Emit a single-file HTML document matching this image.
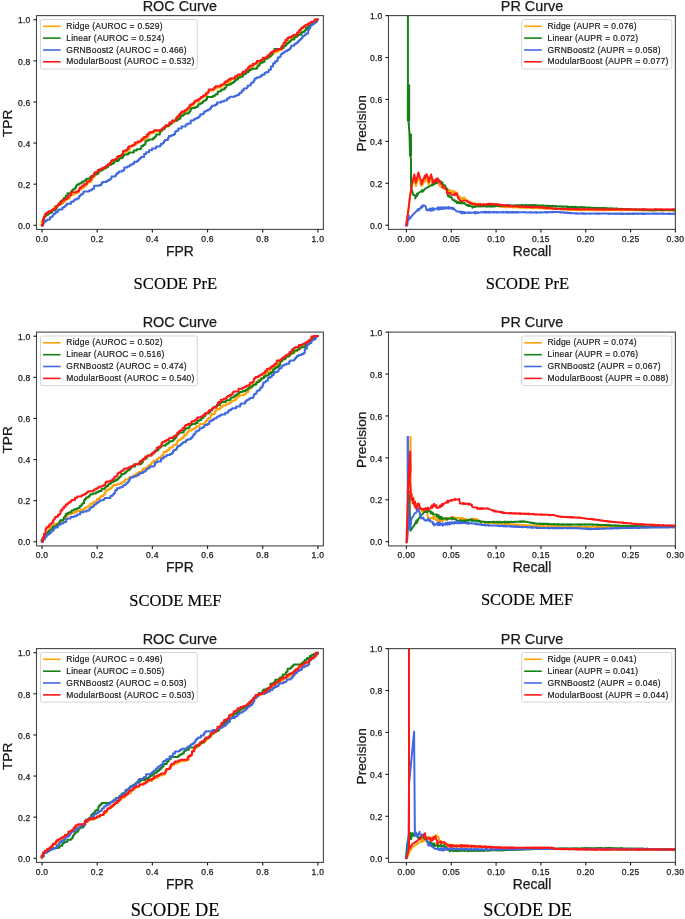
<!DOCTYPE html>
<html><head><meta charset="utf-8"><style>
html,body{margin:0;padding:0;background:#fff;width:685px;height:919px;overflow:hidden}
svg{display:block;will-change:transform;filter:blur(0.3px)}
text{font-family:"Liberation Sans", sans-serif;fill:#1a1a1a}
.tk{stroke:#1a1a1a;stroke-width:0.25px}
.lg{stroke:#1a1a1a;stroke-width:0.2px}
.lb{stroke:#1a1a1a;stroke-width:0.25px}
</style></head><body>
<svg width="685" height="919" viewBox="0 0 685 919">
<rect width="685" height="919" fill="#fff"/>
<clipPath id="c0ROC"><rect x="36.5" y="15.6" width="286.9" height="213.8"/></clipPath>
<g clip-path="url(#c0ROC)" fill="none" stroke-width="2" stroke-linejoin="round" stroke-linecap="round">
<path d="M41.7,225.2 L41.7,221.1 L43.0,221.1 L43.0,219.0 L43.9,219.0 L43.9,216.4 L44.8,216.4 L44.8,215.5 L46.5,215.5 L46.5,214.4 L47.4,214.4 L47.4,213.3 L49.1,213.3 L49.1,211.2 L50.9,211.2 L52.6,211.2 L52.6,209.0 L54.4,209.0 L54.4,206.9 L55.3,206.9 L55.3,205.9 L57.0,205.9 L57.9,205.9 L57.9,204.5 L60.5,204.5 L60.5,203.6 L63.1,203.6 L63.1,201.8 L64.0,201.8 L64.9,201.8 L64.9,199.8 L65.8,199.8 L65.8,198.8 L67.5,198.8 L69.2,198.8 L69.2,197.8 L70.1,197.8 L70.1,194.8 L71.0,194.8 L73.6,194.8 L73.6,193.5 L74.5,193.5 L76.7,193.5 L76.7,192.4 L78.9,192.4 L78.9,191.3 L78.9,189.5 L81.5,189.5 L81.5,187.8 L82.4,187.8 L84.2,187.8 L84.2,186.1 L85.9,186.1 L85.9,185.2 L86.8,185.2 L86.8,183.4 L87.7,183.4 L87.7,182.6 L89.4,182.6 L89.4,181.7 L91.2,181.7 L91.2,180.6 L92.0,180.6 L92.0,178.4 L92.9,178.4 L92.9,177.3 L93.9,177.3 L93.9,176.3 L95.0,176.3 L95.0,173.4 L96.0,173.4 L97.8,173.4 L97.8,171.3 L99.5,171.3 L100.5,171.3 L100.5,170.4 L102.4,170.4 L102.4,169.5 L103.4,169.5 L103.4,168.6 L104.4,168.6 L104.4,167.6 L107.3,167.6 L107.3,165.8 L108.3,165.8 L108.3,164.9 L110.2,164.9 L110.2,163.0 L112.2,163.0 L112.2,161.1 L114.1,161.1 L114.1,160.1 L115.1,160.1 L115.1,159.2 L117.0,159.2 L117.0,158.2 L118.0,158.2 L118.0,157.2 L121.0,157.2 L121.0,156.3 L122.0,156.3 L122.0,155.3 L123.0,155.3 L123.0,152.3 L126.0,152.3 L126.0,151.4 L127.0,151.4 L127.0,150.4 L128.0,150.4 L128.0,149.4 L130.0,149.4 L130.0,146.6 L132.0,146.6 L132.0,145.6 L133.0,145.6 L133.0,144.7 L135.9,144.7 L135.9,143.7 L136.9,143.7 L136.9,142.8 L138.9,142.8 L138.9,141.9 L139.9,141.9 L139.9,140.9 L140.9,140.9 L140.9,140.0 L144.8,140.0 L144.8,139.0 L145.7,139.0 L145.7,138.1 L146.7,138.1 L146.7,137.1 L147.7,137.1 L147.7,136.2 L148.8,136.2 L148.8,134.3 L149.9,134.3 L149.9,133.3 L153.1,133.3 L153.1,132.4 L154.2,132.4 L154.2,131.4 L156.0,131.4 L156.0,131.4 L159.7,131.4 L159.7,130.4 L162.6,130.4 L162.6,128.4 L163.6,128.4 L163.6,127.4 L165.5,127.4 L165.5,126.4 L167.4,126.4 L168.4,126.4 L168.4,125.5 L169.3,125.5 L169.3,124.6 L170.3,124.6 L170.3,123.6 L171.3,123.6 L171.3,122.7 L174.2,122.7 L174.2,120.9 L176.1,120.9 L176.1,118.9 L179.0,118.9 L179.0,117.8 L180.0,117.8 L180.0,115.8 L180.9,115.8 L180.9,114.7 L181.9,114.7 L181.9,112.6 L184.7,112.6 L184.7,111.5 L186.6,111.5 L186.6,110.4 L186.6,109.4 L188.5,109.4 L188.5,107.5 L190.5,107.5 L190.5,106.5 L191.4,106.5 L191.4,105.6 L193.4,105.6 L193.4,103.7 L194.3,103.7 L194.3,102.7 L195.3,102.7 L195.3,101.6 L199.1,101.6 L199.1,99.4 L200.0,99.4 L200.0,98.3 L201.9,98.3 L201.9,97.3 L202.9,97.3 L202.9,96.4 L205.8,96.4 L205.8,95.4 L206.8,95.4 L206.8,93.5 L207.8,93.5 L207.8,91.6 L208.7,91.6 L208.7,90.6 L210.7,90.6 L213.6,90.6 L213.6,89.5 L214.6,89.5 L214.6,88.5 L216.5,88.5 L216.5,87.4 L219.4,87.4 L220.4,87.4 L220.4,86.5 L222.3,86.5 L222.3,85.6 L223.3,85.6 L223.3,84.6 L224.3,84.6 L224.3,83.7 L226.2,83.7 L226.2,82.8 L228.2,82.8 L228.2,81.9 L230.1,81.9 L230.1,80.8 L231.1,80.8 L231.1,78.6 L235.9,78.6 L235.9,77.5 L236.9,77.5 L238.9,77.5 L238.9,76.6 L239.8,76.6 L239.8,75.7 L241.8,75.7 L241.8,72.9 L243.7,72.9 L243.7,72.0 L245.7,72.0 L245.7,70.9 L247.9,70.9 L247.9,69.8 L249.0,69.8 L249.0,68.8 L250.1,68.8 L250.1,67.7 L252.0,67.7 L252.0,66.8 L253.0,66.8 L253.0,65.9 L254.0,65.9 L254.0,64.0 L255.9,64.0 L255.9,63.1 L257.8,63.1 L257.8,62.2 L258.8,62.2 L260.8,62.2 L260.8,61.1 L261.7,61.1 L261.7,60.0 L263.7,60.0 L263.7,58.9 L265.6,58.9 L265.6,57.8 L267.6,57.8 L269.5,57.8 L269.5,56.0 L271.4,56.0 L271.4,54.1 L273.3,54.1 L273.3,53.2 L274.2,53.2 L274.2,52.3 L277.4,52.3 L277.4,51.2 L278.5,51.2 L278.5,50.1 L280.7,50.1 L281.6,50.1 L281.6,49.1 L282.6,49.1 L282.6,48.1 L283.5,48.1 L283.5,44.2 L285.4,44.2 L285.4,42.3 L287.3,42.3 L287.3,40.3 L287.3,39.2 L288.2,39.2 L288.2,38.1 L293.9,38.1 L293.9,37.0 L293.9,36.0 L296.1,36.0 L296.1,35.1 L297.1,35.1 L297.1,34.1 L298.2,34.1 L298.2,32.2 L299.3,32.2 L299.3,30.3 L300.4,30.3 L301.3,30.3 L301.3,28.1 L302.2,28.1 L302.2,27.1 L304.1,27.1 L304.1,26.0 L305.0,26.0 L305.0,24.9 L305.9,24.9 L308.7,24.9 L308.7,23.8 L310.5,23.8 L310.5,22.7 L311.4,22.7 L311.4,21.7 L315.7,21.7 L315.7,19.6 L317.9,19.6" stroke="#ffa208"/>
<path d="M41.7,225.2 L42.8,225.2 L42.8,222.2 L43.9,222.2 L43.9,217.3 L44.8,217.3 L44.8,216.4 L45.6,216.4 L45.6,215.6 L46.5,215.6 L46.5,214.7 L48.2,214.7 L48.2,213.8 L49.1,213.8 L49.1,212.9 L50.0,212.9 L51.1,212.9 L51.1,212.0 L52.2,212.0 L52.2,210.3 L54.4,210.3 L55.3,210.3 L55.3,209.4 L56.1,209.4 L56.1,207.7 L57.0,207.7 L57.0,205.9 L57.9,205.9 L57.9,205.1 L59.6,205.1 L59.6,204.2 L60.5,204.2 L60.5,201.2 L62.3,201.2 L62.3,200.2 L63.2,200.2 L63.2,199.1 L64.0,199.1 L64.0,198.0 L65.8,198.0 L65.8,195.8 L67.5,195.8 L67.5,193.2 L69.3,193.2 L71.0,193.2 L71.0,191.5 L71.9,191.5 L71.9,190.6 L72.8,190.6 L72.8,189.5 L74.5,189.5 L74.5,188.4 L75.4,188.4 L75.4,187.4 L76.2,187.4 L76.2,185.4 L77.1,185.4 L77.1,184.4 L78.0,184.4 L79.1,184.4 L79.1,183.4 L81.3,183.4 L81.3,182.4 L82.4,182.4 L82.4,181.4 L84.6,181.4 L84.6,180.5 L85.7,180.5 L85.7,179.6 L86.8,179.6 L86.8,178.7 L90.1,178.7 L90.1,177.0 L91.2,177.0 L93.1,177.0 L93.1,175.3 L94.1,175.3 L94.1,174.4 L96.0,174.4 L96.9,174.4 L96.9,173.4 L98.6,173.4 L98.6,171.6 L99.5,171.6 L99.5,170.6 L101.5,170.6 L101.5,169.6 L103.4,169.6 L103.4,168.6 L105.4,168.6 L105.4,167.7 L106.3,167.7 L106.3,166.7 L108.3,166.7 L108.3,165.7 L108.3,164.8 L111.3,164.8 L111.3,163.8 L113.3,163.8 L113.3,162.9 L114.2,162.9 L114.2,161.0 L118.2,161.0 L118.2,160.0 L119.2,160.0 L119.2,159.1 L119.2,158.2 L122.1,158.2 L122.1,157.3 L123.1,157.3 L123.1,155.4 L124.1,155.4 L124.1,154.5 L128.0,154.5 L128.0,153.6 L129.0,153.6 L129.0,152.5 L133.8,152.5 L133.8,150.4 L136.7,150.4 L136.7,149.3 L140.5,149.3 L140.5,148.2 L141.4,148.2 L141.4,146.0 L143.3,146.0 L143.3,145.1 L144.4,145.1 L144.4,144.2 L145.5,144.2 L145.5,141.4 L146.6,141.4 L146.6,140.5 L147.7,140.5 L148.8,140.5 L148.8,139.4 L153.1,139.4 L153.1,138.3 L154.2,138.3 L154.2,137.4 L155.1,137.4 L155.1,136.4 L156.1,136.4 L156.1,134.5 L159.9,134.5 L159.9,131.7 L160.8,131.7 L160.8,130.8 L161.8,130.8 L161.8,129.8 L162.8,129.8 L162.8,128.9 L164.7,128.9 L164.7,127.0 L165.7,127.0 L165.7,126.0 L168.6,126.0 L168.6,125.1 L169.6,125.1 L169.6,124.1 L171.5,124.1 L171.5,121.9 L172.5,121.9 L172.5,120.8 L177.3,120.8 L177.3,119.7 L178.3,119.7 L178.3,118.7 L180.4,118.7 L180.4,116.6 L181.4,116.6 L181.4,115.6 L183.5,115.6 L183.5,114.5 L184.5,114.5 L184.5,113.5 L186.6,113.5 L188.5,113.5 L188.5,112.4 L189.5,112.4 L189.5,111.3 L190.5,111.3 L190.5,109.2 L191.4,109.2 L191.4,108.1 L195.3,108.1 L195.3,107.0 L197.3,107.0 L197.3,106.1 L198.2,106.1 L198.2,104.2 L200.2,104.2 L200.2,103.2 L202.1,103.2 L202.1,102.3 L203.1,102.3 L203.1,101.3 L204.1,101.3 L204.1,100.4 L206.0,100.4 L206.0,99.3 L207.0,99.3 L207.0,97.1 L212.8,97.1 L212.8,96.0 L214.8,96.0 L214.8,95.1 L215.7,95.1 L215.7,94.2 L217.7,94.2 L217.7,91.4 L220.6,91.4 L220.6,90.5 L221.6,90.5 L221.6,89.4 L224.4,89.4 L224.4,88.3 L225.4,88.3 L225.4,87.3 L226.3,87.3 L226.3,85.1 L228.2,85.1 L229.2,85.1 L229.2,84.2 L231.1,84.2 L231.1,83.3 L233.0,83.3 L233.0,82.3 L234.0,82.3 L234.0,81.4 L235.0,81.4 L235.0,80.5 L235.9,80.5 L235.9,79.6 L236.9,79.6 L237.9,79.6 L237.9,77.7 L239.8,77.7 L239.8,76.8 L242.8,76.8 L242.8,74.9 L243.7,74.9 L243.7,73.9 L245.7,73.9 L245.7,73.0 L246.7,73.0 L246.7,71.9 L248.7,71.9 L248.7,70.8 L249.7,70.8 L249.7,69.8 L251.6,69.8 L251.6,68.7 L256.6,68.7 L256.6,67.6 L257.6,67.6 L257.6,65.6 L259.6,65.6 L259.6,63.6 L260.6,63.6 L260.6,62.7 L262.6,62.7 L262.6,61.7 L264.6,61.7 L264.6,58.7 L267.6,58.7 L267.6,57.7 L267.6,56.7 L270.5,56.7 L270.5,54.8 L272.4,54.8 L272.4,51.8 L273.4,51.8 L273.4,50.9 L274.4,50.9 L274.4,48.9 L276.3,48.9 L277.4,48.9 L277.4,48.9 L280.7,48.9 L280.7,47.9 L283.6,47.9 L283.6,46.0 L285.6,46.0 L285.6,45.1 L286.6,45.1 L286.6,43.2 L288.5,43.2 L288.5,42.2 L289.5,42.2 L289.5,41.3 L290.5,41.3 L290.5,40.4 L291.4,40.4 L291.4,39.5 L294.3,39.5 L294.3,37.6 L295.3,37.6 L295.3,36.7 L297.2,36.7 L297.2,35.8 L298.2,35.8 L298.2,34.8 L301.1,34.8 L301.1,32.9 L302.1,32.9 L302.1,32.0 L304.1,32.0 L304.1,31.0 L305.0,31.0 L305.0,30.0 L306.0,30.0 L306.0,28.1 L307.0,28.1 L308.0,28.1 L308.0,27.0 L309.0,27.0 L309.0,26.0 L310.0,26.0 L310.0,24.9 L312.0,24.9 L312.0,23.9 L313.9,23.9 L313.9,22.8 L314.9,22.8 L314.9,21.7 L316.9,21.7 L316.9,19.6 L317.9,19.6" stroke="#168216"/>
<path d="M42.3,225.9 L42.3,225.2 L43.0,225.2 L43.0,223.4 L43.9,223.4 L43.9,221.7 L44.8,221.7 L45.7,221.7 L45.7,220.4 L47.4,220.4 L47.4,219.4 L50.0,219.4 L50.0,217.3 L51.8,217.3 L51.8,216.4 L52.6,216.4 L52.6,215.6 L53.5,215.6 L53.5,213.8 L55.7,213.8 L55.7,212.0 L57.9,212.0 L57.9,210.2 L59.0,210.2 L59.0,209.4 L62.3,209.4 L62.3,208.5 L62.3,207.6 L64.0,207.6 L64.0,206.8 L64.9,206.8 L64.9,205.9 L65.8,205.9 L65.8,204.9 L66.8,204.9 L66.8,203.8 L71.0,203.8 L71.0,202.8 L71.0,201.7 L73.6,201.7 L73.6,200.6 L74.5,200.6 L74.5,199.6 L76.7,199.6 L76.7,198.6 L78.9,198.6 L78.9,197.6 L78.9,196.6 L79.8,196.6 L79.8,195.6 L80.7,195.6 L80.7,194.6 L82.4,194.6 L82.4,193.6 L83.5,193.6 L83.5,191.5 L86.8,191.5 L89.0,191.5 L89.0,190.6 L91.2,190.6 L91.2,189.7 L92.2,189.7 L92.2,188.7 L94.1,188.7 L94.1,185.8 L96.0,185.8 L99.5,185.8 L99.5,185.0 L101.5,185.0 L101.5,182.9 L102.5,182.9 L102.5,181.9 L106.4,181.9 L106.4,180.9 L108.4,180.9 L108.4,179.8 L110.4,179.8 L110.4,178.8 L111.4,178.8 L111.4,176.6 L115.3,176.6 L115.3,175.5 L116.3,175.5 L116.3,173.4 L118.2,173.4 L118.2,172.3 L119.2,172.3 L119.2,171.4 L122.2,171.4 L122.2,170.4 L124.2,170.4 L124.2,167.6 L127.2,167.6 L127.2,166.6 L129.2,166.6 L129.2,165.7 L130.2,165.7 L130.2,164.7 L132.2,164.7 L132.2,163.8 L134.2,163.8 L134.2,161.8 L137.1,161.8 L137.1,160.9 L138.1,160.9 L138.1,159.9 L139.1,159.9 L139.1,159.0 L140.1,159.0 L140.1,158.0 L141.1,158.0 L141.1,157.0 L144.1,157.0 L144.1,154.1 L146.1,154.1 L146.1,152.2 L149.0,152.2 L149.0,150.3 L152.0,150.3 L152.0,149.3 L152.0,148.4 L156.0,148.4 L156.0,146.6 L160.0,146.6 L160.0,145.6 L161.0,145.6 L161.0,143.8 L163.0,143.8 L163.0,142.8 L164.0,142.8 L164.0,140.9 L165.0,140.9 L165.0,139.9 L167.9,139.9 L167.9,137.9 L168.9,137.9 L168.9,136.0 L171.8,136.0 L171.8,135.0 L174.0,135.0 L174.0,133.9 L175.1,133.9 L175.1,131.8 L176.1,131.8 L176.1,130.7 L178.3,130.7 L178.3,129.6 L178.3,128.6 L181.5,128.6 L181.5,126.5 L185.7,126.5 L185.7,124.4 L187.8,124.4 L187.8,123.4 L188.8,123.4 L190.7,123.4 L190.7,120.6 L193.6,120.6 L193.6,119.7 L194.6,119.7 L194.6,118.8 L196.5,118.8 L196.5,117.9 L197.5,117.9 L198.4,117.9 L198.4,117.0 L199.4,117.0 L199.4,116.1 L200.3,116.1 L200.3,114.2 L203.2,114.2 L203.2,113.3 L204.1,113.3 L204.1,112.4 L204.1,111.5 L206.1,111.5 L206.1,110.5 L208.1,110.5 L208.1,109.5 L210.0,109.5 L210.0,108.6 L211.0,108.6 L211.0,106.7 L212.0,106.7 L212.0,105.7 L215.0,105.7 L215.0,104.8 L217.0,104.8 L217.0,102.6 L221.0,102.6 L221.0,101.5 L224.0,101.5 L224.0,100.4 L226.0,100.4 L227.0,100.4 L227.0,98.6 L229.0,98.6 L229.0,97.6 L230.0,97.6 L230.0,96.7 L234.9,96.7 L234.9,95.8 L236.9,95.8 L236.9,94.9 L238.9,94.9 L238.9,93.8 L239.8,93.8 L239.8,92.7 L241.8,92.7 L241.8,90.6 L243.7,90.6 L243.7,88.4 L245.7,88.4 L246.7,88.4 L246.7,87.4 L247.7,87.4 L247.7,85.4 L250.7,85.4 L250.7,83.5 L251.6,83.5 L251.6,82.5 L253.6,82.5 L253.6,80.5 L254.6,80.5 L254.6,78.5 L256.6,78.5 L256.6,77.6 L259.6,77.6 L259.6,76.6 L261.6,76.6 L261.6,74.7 L264.6,74.7 L264.6,72.8 L266.6,72.8 L266.6,71.9 L267.6,71.9 L268.7,71.9 L268.7,69.7 L270.9,69.7 L270.9,66.5 L272.0,66.5 L273.0,66.5 L273.0,63.5 L274.9,63.5 L274.9,61.5 L276.8,61.5 L276.8,60.5 L277.8,60.5 L277.8,57.5 L279.7,57.5 L279.7,56.5 L280.7,56.5 L280.7,55.5 L280.7,54.6 L281.6,54.6 L281.6,53.7 L282.6,53.7 L282.6,52.8 L284.5,52.8 L284.5,51.8 L285.4,51.8 L285.4,50.9 L287.3,50.9 L287.3,50.0 L289.2,50.0 L289.2,48.9 L290.2,48.9 L290.2,47.8 L291.2,47.8 L291.2,45.7 L294.1,45.7 L294.1,44.6 L295.0,44.6 L295.0,43.5 L296.0,43.5 L296.9,43.5 L296.9,42.5 L297.9,42.5 L297.9,41.6 L298.8,41.6 L298.8,40.6 L299.8,40.6 L299.8,39.7 L300.7,39.7 L300.7,38.7 L301.7,38.7 L301.7,37.7 L302.6,37.7 L302.6,35.8 L304.8,35.8 L304.8,34.7 L305.9,34.7 L305.9,33.6 L307.0,33.6 L308.1,33.6 L308.1,29.8 L309.2,29.8 L309.2,27.9 L310.3,27.9 L310.3,26.0 L311.4,26.0 L311.4,24.9 L312.5,24.9 L312.5,23.9 L313.6,23.9 L313.6,22.8 L315.7,22.8 L315.7,20.7 L316.8,20.7 L316.8,19.6 L317.9,19.6" stroke="#4068e0"/>
<path d="M41.7,225.2 L43.0,225.2 L43.0,219.0 L43.9,219.0 L43.9,217.2 L44.8,217.2 L44.8,215.5 L44.8,214.4 L45.7,214.4 L45.7,213.3 L47.4,213.3 L47.4,212.2 L49.1,212.2 L49.1,211.2 L50.9,211.2 L51.8,211.2 L51.8,210.1 L53.5,210.1 L53.5,209.0 L54.4,209.0 L55.3,209.0 L55.3,206.9 L56.1,206.9 L56.1,205.9 L57.0,205.9 L57.9,205.9 L57.9,205.0 L58.8,205.0 L58.8,203.3 L60.5,203.3 L61.4,203.3 L61.4,201.5 L62.2,201.5 L62.2,200.6 L64.0,200.6 L64.0,199.6 L66.6,199.6 L66.6,198.6 L67.5,198.6 L67.5,197.6 L68.4,197.6 L68.4,195.6 L71.0,195.6 L71.0,193.6 L71.0,192.3 L74.5,192.3 L76.7,192.3 L76.7,191.2 L78.9,191.2 L78.9,190.1 L78.9,189.2 L79.8,189.2 L79.8,187.5 L81.5,187.5 L81.5,186.6 L82.4,186.6 L82.4,185.7 L84.2,185.7 L84.2,184.0 L85.9,184.0 L86.8,184.0 L86.8,181.4 L89.4,181.4 L89.4,180.5 L90.3,180.5 L90.3,179.4 L91.2,179.4 L91.2,176.1 L92.9,176.1 L93.9,176.1 L93.9,173.2 L95.0,173.2 L95.0,172.2 L96.0,172.2 L97.8,172.2 L97.8,170.1 L99.5,170.1 L99.5,169.2 L101.5,169.2 L101.5,168.3 L103.4,168.3 L103.4,167.4 L105.4,167.4 L105.4,166.4 L106.3,166.4 L106.3,165.5 L108.3,165.5 L108.3,164.6 L108.3,163.7 L110.2,163.7 L110.2,162.7 L111.2,162.7 L111.2,160.8 L112.2,160.8 L112.2,159.9 L115.1,159.9 L115.1,158.9 L117.0,158.9 L117.0,158.0 L117.0,157.0 L118.0,157.0 L118.0,156.0 L121.0,156.0 L121.0,155.1 L122.0,155.1 L122.0,154.1 L123.0,154.1 L123.0,151.1 L125.0,151.1 L125.0,150.2 L127.0,150.2 L127.0,149.2 L128.0,149.2 L128.0,148.2 L128.0,147.3 L129.0,147.3 L129.0,146.3 L132.0,146.3 L132.0,145.4 L133.9,145.4 L133.9,144.4 L134.9,144.4 L134.9,142.5 L137.9,142.5 L137.9,141.6 L138.9,141.6 L140.9,141.6 L140.9,140.7 L141.8,140.7 L141.8,138.8 L143.8,138.8 L143.8,136.9 L146.7,136.9 L146.7,135.0 L147.7,135.0 L147.7,134.0 L148.8,134.0 L148.8,133.1 L149.9,133.1 L149.9,132.1 L153.1,132.1 L153.1,131.2 L154.2,131.2 L154.2,130.2 L157.9,130.2 L157.9,130.2 L159.7,130.2 L161.6,130.2 L161.6,129.2 L162.6,129.2 L162.6,128.2 L163.6,128.2 L163.6,127.2 L165.5,127.2 L165.5,125.2 L167.4,125.2 L169.3,125.2 L169.3,122.4 L172.2,122.4 L172.2,120.6 L176.1,120.6 L176.1,119.7 L176.1,117.7 L177.1,117.7 L177.1,116.6 L179.0,116.6 L179.0,114.6 L180.0,114.6 L180.0,113.5 L180.9,113.5 L180.9,112.4 L181.9,112.4 L181.9,111.4 L184.7,111.4 L184.7,110.3 L186.6,110.3 L186.6,109.2 L187.6,109.2 L187.6,108.2 L188.5,108.2 L188.5,107.3 L189.5,107.3 L189.5,105.3 L190.5,105.3 L190.5,104.4 L192.4,104.4 L192.4,103.4 L194.3,103.4 L194.3,101.5 L195.3,101.5 L195.3,100.4 L198.1,100.4 L198.1,99.3 L200.0,99.3 L200.0,98.2 L201.0,98.2 L201.0,97.1 L201.9,97.1 L202.9,97.1 L202.9,96.1 L203.9,96.1 L203.9,95.2 L205.8,95.2 L205.8,93.2 L207.8,93.2 L207.8,92.3 L208.7,92.3 L208.7,89.4 L210.7,89.4 L213.6,89.4 L213.6,88.3 L214.6,88.3 L214.6,87.3 L215.5,87.3 L215.5,86.2 L219.4,86.2 L220.4,86.2 L220.4,85.3 L221.4,85.3 L221.4,84.4 L224.3,84.4 L224.3,82.5 L225.3,82.5 L225.3,81.6 L227.2,81.6 L227.2,80.7 L228.2,80.7 L228.2,79.6 L230.1,79.6 L230.1,78.5 L235.0,78.5 L235.0,76.3 L236.9,76.3 L236.9,75.4 L237.9,75.4 L237.9,74.5 L241.8,74.5 L241.8,73.5 L242.8,73.5 L242.8,71.7 L245.7,71.7 L245.7,70.8 L245.7,69.7 L247.9,69.7 L247.9,67.6 L249.0,67.6 L249.0,66.5 L250.1,66.5 L250.1,65.6 L253.0,65.6 L253.0,63.7 L255.9,63.7 L255.9,62.8 L256.9,62.8 L256.9,61.0 L258.8,61.0 L260.8,61.0 L260.8,59.9 L262.7,59.9 L262.7,57.7 L266.6,57.7 L266.6,56.6 L267.6,56.6 L267.6,55.7 L268.5,55.7 L268.5,54.8 L269.5,54.8 L269.5,53.9 L270.4,53.9 L270.4,52.9 L271.4,52.9 L271.4,52.0 L273.3,52.0 L273.3,51.1 L274.2,51.1 L275.3,51.1 L275.3,50.0 L278.5,50.0 L278.5,48.9 L280.7,48.9 L281.6,48.9 L281.6,46.0 L283.5,46.0 L283.5,43.0 L284.5,43.0 L284.5,42.0 L285.4,42.0 L285.4,40.1 L287.3,40.1 L287.3,39.1 L287.3,38.0 L289.2,38.0 L289.2,36.9 L292.0,36.9 L292.0,35.8 L293.9,35.8 L293.9,34.7 L297.1,34.7 L297.1,32.5 L299.3,32.5 L299.3,30.3 L300.4,30.3 L300.4,29.2 L301.3,29.2 L301.3,28.1 L303.2,28.1 L303.2,27.1 L304.1,27.1 L304.1,26.0 L305.9,26.0 L305.9,24.9 L307.7,24.9 L307.7,23.8 L309.6,23.8 L309.6,22.7 L311.4,22.7 L311.4,21.7 L314.6,21.7 L314.6,19.6 L317.9,19.6" stroke="#ff1717"/>
</g>
<rect x="36.5" y="15.6" width="286.9" height="213.8" fill="none" stroke="#464646" stroke-width="1.1"/>
<line x1="42.02" y1="229.4" x2="42.02" y2="232.4" stroke="#1e1e1e" stroke-width="1.15"/>
<text class="tk" x="42.02" y="241.9" font-size="8.5" letter-spacing="0.3" text-anchor="middle">0.0</text>
<line x1="97.19" y1="229.4" x2="97.19" y2="232.4" stroke="#1e1e1e" stroke-width="1.15"/>
<text class="tk" x="97.19" y="241.9" font-size="8.5" letter-spacing="0.3" text-anchor="middle">0.2</text>
<line x1="152.36" y1="229.4" x2="152.36" y2="232.4" stroke="#1e1e1e" stroke-width="1.15"/>
<text class="tk" x="152.36" y="241.9" font-size="8.5" letter-spacing="0.3" text-anchor="middle">0.4</text>
<line x1="207.54" y1="229.4" x2="207.54" y2="232.4" stroke="#1e1e1e" stroke-width="1.15"/>
<text class="tk" x="207.54" y="241.9" font-size="8.5" letter-spacing="0.3" text-anchor="middle">0.6</text>
<line x1="262.71" y1="229.4" x2="262.71" y2="232.4" stroke="#1e1e1e" stroke-width="1.15"/>
<text class="tk" x="262.71" y="241.9" font-size="8.5" letter-spacing="0.3" text-anchor="middle">0.8</text>
<line x1="317.88" y1="229.4" x2="317.88" y2="232.4" stroke="#1e1e1e" stroke-width="1.15"/>
<text class="tk" x="317.88" y="241.9" font-size="8.5" letter-spacing="0.3" text-anchor="middle">1.0</text>
<line x1="33.5" y1="225.29" x2="36.5" y2="225.29" stroke="#1e1e1e" stroke-width="1.15"/>
<text class="tk" x="30.6" y="228.99" font-size="8.5" letter-spacing="0.3" text-anchor="end">0.0</text>
<line x1="33.5" y1="184.17" x2="36.5" y2="184.17" stroke="#1e1e1e" stroke-width="1.15"/>
<text class="tk" x="30.6" y="187.87" font-size="8.5" letter-spacing="0.3" text-anchor="end">0.2</text>
<line x1="33.5" y1="143.06" x2="36.5" y2="143.06" stroke="#1e1e1e" stroke-width="1.15"/>
<text class="tk" x="30.6" y="146.76" font-size="8.5" letter-spacing="0.3" text-anchor="end">0.4</text>
<line x1="33.5" y1="101.94" x2="36.5" y2="101.94" stroke="#1e1e1e" stroke-width="1.15"/>
<text class="tk" x="30.6" y="105.64" font-size="8.5" letter-spacing="0.3" text-anchor="end">0.6</text>
<line x1="33.5" y1="60.83" x2="36.5" y2="60.83" stroke="#1e1e1e" stroke-width="1.15"/>
<text class="tk" x="30.6" y="64.53" font-size="8.5" letter-spacing="0.3" text-anchor="end">0.8</text>
<line x1="33.5" y1="19.71" x2="36.5" y2="19.71" stroke="#1e1e1e" stroke-width="1.15"/>
<text class="tk" x="30.6" y="23.41" font-size="8.5" letter-spacing="0.3" text-anchor="end">1.0</text>
<text class="lb" x="179.9" y="10.9" font-size="14.4" text-anchor="middle">ROC Curve</text>
<text class="lb" x="179.9" y="255.8" font-size="13.9" text-anchor="middle">FPR</text>
<text class="lb" transform="translate(12.0,123.3) rotate(-90)" font-size="13.7" text-anchor="middle">TPR</text>
<rect x="40.5" y="19.5" width="156.8" height="49.6" rx="2" fill="#fff" fill-opacity="0.85" stroke="#d0d0d0" stroke-width="0.9"/>
<line x1="43.0" y1="26.3" x2="60.6" y2="26.3" stroke="#ffa208" stroke-width="1.6"/>
<text class="lg" x="66.3" y="28.9" font-size="8.5" letter-spacing="0.22">Ridge (AUROC = 0.529)</text>
<line x1="43.0" y1="38.1" x2="60.6" y2="38.1" stroke="#168216" stroke-width="1.6"/>
<text class="lg" x="66.3" y="40.8" font-size="8.5" letter-spacing="0.22">Linear (AUROC = 0.524)</text>
<line x1="43.0" y1="50.0" x2="60.6" y2="50.0" stroke="#4068e0" stroke-width="1.6"/>
<text class="lg" x="66.3" y="52.6" font-size="8.5" letter-spacing="0.22">GRNBoost2 (AUROC = 0.466)</text>
<line x1="43.0" y1="61.8" x2="60.6" y2="61.8" stroke="#ff1717" stroke-width="1.6"/>
<text class="lg" x="66.3" y="64.4" font-size="8.5" letter-spacing="0.22">ModularBoost (AUROC = 0.532)</text>
<clipPath id="c0PR"><rect x="388.5" y="15.6" width="286.9" height="213.8"/></clipPath>
<g clip-path="url(#c0PR)" fill="none" stroke-width="2" stroke-linejoin="round" stroke-linecap="round">
<path d="M406.1,225.6 L408.2,211.3 L410.2,195.0 L412.3,184.0 L414.3,178.0 L415.9,186.0 L418.4,175.6 L418.4,178.4 L419.9,180.6 L419.9,182.4 L421.5,186.0 L423.2,183.3 L424.9,179.5 L424.9,181.8 L426.6,178.0 L428.6,183.3 L428.6,184.7 L431.1,176.6 L431.1,179.4 L432.7,184.0 L434.4,183.0 L436.1,180.9 L436.1,183.1 L437.8,179.6 L437.8,182.4 L440.0,186.4 L441.9,187.3 L443.8,187.5 L443.8,188.8 L445.7,189.0 L447.6,189.5 L447.6,190.3 L449.5,189.7 L449.5,191.8 L451.4,190.8 L451.4,192.4 L453.1,190.9 L453.1,192.3 L454.9,191.6 L457.5,193.6 L457.5,195.0 L459.2,196.1 L459.2,196.8 L461.0,198.2 L461.0,199.0 L462.8,197.7 L462.8,199.1 L464.5,197.6 L464.5,198.8 L466.2,199.8 L468.0,200.7 L468.0,201.9 L469.8,201.8 L469.8,202.5 L471.5,202.6 L471.5,203.4 L473.3,202.8 L473.3,203.8 L475.0,203.1 L475.0,204.1 L476.8,203.9 L478.7,203.4 L478.7,204.7 L480.6,203.9 L480.6,204.5 L482.5,204.4 L484.3,204.3 L484.3,204.8 L486.2,204.7 L488.1,204.4 L488.1,205.3 L490.0,204.7 L490.0,205.3 L491.7,204.9 L491.7,205.7 L493.5,205.2 L493.5,205.9 L495.2,205.8 L497.0,206.0 L498.7,206.1 L498.7,206.5 L500.5,206.3 L500.5,206.8 L502.2,206.4 L502.2,207.2 L504.0,206.9 L505.8,206.5 L505.8,207.4 L507.6,207.0 L509.4,206.9 L509.4,207.2 L511.2,207.1 L513.0,206.9 L513.0,207.5 L514.8,207.3 L516.6,207.3 L518.4,207.1 L518.4,207.7 L520.2,207.1 L520.2,207.8 L522.0,207.3 L522.0,207.8 L523.8,207.4 L523.8,207.8 L525.6,207.4 L525.6,207.9 L527.4,207.7 L529.2,207.8 L531.0,207.7 L531.0,208.0 L532.8,207.6 L532.8,208.3 L534.6,208.0 L536.4,207.8 L536.4,208.3 L538.2,208.1 L540.0,208.2 L541.8,208.3 L543.7,208.1 L543.7,208.7 L545.5,208.2 L545.5,208.8 L547.4,208.3 L547.4,208.8 L549.2,208.6 L551.1,208.7 L552.9,208.8 L554.8,208.9 L556.6,209.0 L558.5,209.1 L560.3,209.0 L560.3,209.4 L562.1,209.0 L562.1,209.5 L564.0,209.3 L564.0,209.5 L565.8,209.3 L565.8,209.6 L567.7,209.4 L567.7,209.7 L569.5,209.4 L569.5,209.8 L571.4,209.5 L571.4,210.0 L573.2,209.5 L573.2,210.1 L575.1,209.7 L575.1,210.1 L576.9,209.7 L576.9,210.3 L578.7,209.7 L578.7,210.3 L580.5,209.8 L580.5,210.2 L582.2,209.8 L582.2,210.2 L584.0,209.9 L584.0,210.1 L585.8,210.0 L587.6,209.8 L587.6,210.2 L589.3,210.0 L591.1,209.8 L591.1,210.2 L592.9,209.8 L592.9,210.2 L594.7,209.8 L594.7,210.2 L596.5,209.7 L596.5,210.3 L598.2,209.8 L598.2,210.2 L600.0,209.8 L600.0,210.2 L601.8,209.8 L601.8,210.2 L603.6,209.8 L603.6,210.2 L605.4,209.7 L605.4,210.3 L607.1,210.0 L608.9,209.9 L608.9,210.1 L610.7,209.7 L610.7,210.3 L612.5,210.0 L614.2,210.0 L616.0,209.9 L616.0,210.1 L617.8,209.9 L617.8,210.1 L619.6,209.7 L619.6,210.3 L621.4,209.8 L621.4,210.2 L623.3,210.0 L625.1,210.1 L626.9,210.1 L628.7,210.1 L630.5,210.1 L632.3,210.1 L634.2,209.8 L634.2,210.4 L636.0,210.1 L637.8,210.0 L637.8,210.3 L639.6,210.2 L641.4,209.9 L641.4,210.4 L643.3,209.9 L643.3,210.4 L645.1,210.0 L645.1,210.4 L646.9,209.9 L646.9,210.5 L648.7,210.2 L650.5,209.9 L650.5,210.5 L652.4,209.9 L652.4,210.5 L654.2,210.0 L654.2,210.5 L656.0,210.3 L657.8,210.2 L657.8,210.4 L659.6,210.3 L661.5,210.1 L661.5,210.5 L663.3,210.3 L665.1,210.0 L665.1,210.6 L666.9,210.3 L668.7,210.2 L668.7,210.5 L670.5,210.1 L670.5,210.6 L672.4,210.3 L672.4,210.5 L674.2,210.1 L674.2,210.7 L676.0,210.4" stroke="#ffa208"/>
<path d="M407.9,14.0 L407.9,85.3 L407.8,120.4 L409.2,120.4 L409.2,85.3 L408.5,85.3 L408.5,120.4 L409.5,134.4 L410.0,155.5 L411.0,155.5 L411.0,134.4 L410.5,134.4 L410.5,155.5 L411.0,160.0 L411.0,186.8 L413.3,195.0 L415.3,195.5 L415.3,198.5 L416.9,193.7 L416.9,196.2 L418.4,192.9 L420.4,191.9 L422.5,190.0 L422.5,191.8 L424.6,189.4 L426.6,187.8 L428.6,186.8 L430.7,185.7 L432.7,184.1 L432.7,185.3 L434.7,182.7 L434.7,184.1 L436.8,180.8 L436.8,183.3 L438.8,179.8 L438.8,181.6 L440.0,181.1 L442.6,182.9 L442.6,184.7 L445.3,185.8 L445.3,187.0 L447.4,189.5 L447.4,191.1 L447.9,196.0 L449.6,195.6 L449.6,197.3 L451.4,196.9 L452.3,199.5 L454.5,200.3 L454.5,201.3 L456.6,201.2 L456.6,203.0 L458.8,201.9 L458.8,203.2 L461.0,202.5 L461.0,203.5 L462.8,202.6 L462.8,203.4 L464.5,203.0 L466.3,205.2 L468.1,204.7 L468.1,206.1 L469.8,205.3 L469.8,205.9 L472.4,206.3 L472.4,207.7 L474.6,206.2 L474.6,207.1 L476.8,206.3 L478.5,205.8 L478.5,206.7 L480.3,205.8 L480.3,206.5 L482.0,205.7 L482.0,206.5 L483.7,205.9 L483.7,206.4 L485.3,205.9 L485.3,206.4 L487.0,205.7 L487.0,206.7 L488.7,205.8 L488.7,206.6 L490.3,206.0 L490.3,206.5 L492.0,205.9 L492.0,206.7 L493.7,205.9 L493.7,206.5 L495.4,205.8 L495.4,206.4 L497.1,205.9 L498.8,205.4 L498.8,206.2 L500.5,205.4 L500.5,206.1 L502.2,205.3 L502.2,205.9 L504.1,205.3 L504.1,205.8 L505.9,205.5 L507.8,205.1 L507.8,205.8 L509.6,205.0 L509.6,205.9 L511.5,205.4 L513.3,205.4 L515.2,205.2 L515.2,205.5 L517.0,205.3 L518.9,205.3 L520.7,205.2 L522.6,204.9 L522.6,205.5 L524.5,205.2 L526.4,205.0 L526.4,205.5 L528.3,205.2 L530.3,204.9 L530.3,205.6 L532.2,205.1 L532.2,205.4 L534.1,204.9 L534.1,205.6 L536.0,205.0 L536.0,205.6 L537.9,205.4 L539.7,205.5 L541.6,205.6 L543.4,205.4 L543.4,205.9 L545.3,205.8 L547.1,205.7 L547.1,206.0 L549.0,205.7 L549.0,206.2 L550.8,206.0 L552.7,205.8 L552.7,206.4 L554.5,205.9 L554.5,206.5 L556.4,206.0 L556.4,206.6 L558.2,206.4 L560.0,206.3 L560.0,206.6 L561.7,206.3 L561.7,206.8 L563.5,206.4 L563.5,206.8 L565.3,206.5 L565.3,206.8 L567.1,206.5 L567.1,207.0 L568.8,206.6 L568.8,207.1 L570.6,206.9 L572.4,206.8 L572.4,207.1 L574.2,207.0 L576.0,206.8 L576.0,207.4 L577.7,207.2 L579.5,207.3 L581.3,207.1 L581.3,207.6 L583.1,207.1 L583.1,207.7 L584.9,207.3 L584.9,207.6 L586.6,207.6 L588.4,207.5 L588.4,207.8 L590.2,207.5 L590.2,207.9 L592.0,207.8 L593.7,207.9 L595.5,207.8 L595.5,208.1 L597.3,207.9 L597.3,208.1 L599.2,208.0 L599.2,208.2 L601.0,208.0 L601.0,208.3 L602.9,208.0 L602.9,208.4 L604.8,208.1 L604.8,208.5 L606.6,208.1 L606.6,208.6 L608.5,208.4 L610.3,208.3 L610.3,208.8 L612.2,208.3 L612.2,208.9 L614.1,208.4 L614.1,208.9 L615.9,208.4 L615.9,209.0 L617.8,208.5 L617.8,209.1 L619.6,208.9 L621.4,208.8 L621.4,209.1 L623.2,209.0 L625.0,209.0 L625.0,209.2 L626.8,208.9 L626.8,209.4 L628.6,209.2 L630.4,209.0 L630.4,209.6 L632.2,209.4 L634.0,209.4 L635.8,209.3 L635.8,209.7 L637.6,209.6 L639.4,209.5 L639.4,209.8 L641.2,209.5 L641.2,210.0 L643.0,209.5 L643.0,210.1 L644.8,209.6 L644.8,210.1 L646.6,209.9 L648.4,209.8 L648.4,210.2 L650.2,209.7 L650.2,210.3 L652.1,209.8 L652.1,210.2 L653.9,209.8 L653.9,210.2 L655.8,209.7 L655.8,210.3 L657.6,210.0 L659.4,209.9 L659.4,210.1 L661.3,209.8 L661.3,210.2 L663.1,209.8 L663.1,210.2 L665.0,210.0 L666.8,210.0 L668.6,210.0 L670.5,210.0 L672.3,209.7 L672.3,210.3 L674.2,209.7 L674.2,210.3 L676.0,210.0" stroke="#168216"/>
<path d="M407.2,225.6 L408.6,215.4 L409.2,219.5 L412.3,215.4 L416.3,211.3 L418.4,208.9 L418.4,210.6 L420.4,208.2 L421.9,205.7 L421.9,207.7 L423.5,205.2 L425.5,206.2 L426.6,210.3 L428.6,209.4 L428.6,210.5 L430.7,208.4 L430.7,210.8 L432.7,208.0 L432.7,210.6 L434.5,208.5 L434.5,209.6 L436.4,208.8 L438.2,207.3 L438.2,209.8 L440.0,207.4 L440.0,209.2 L441.8,207.3 L441.8,209.1 L443.5,207.2 L443.5,209.0 L445.3,207.4 L445.3,208.6 L447.0,207.4 L447.0,208.4 L448.8,206.9 L448.8,208.7 L450.5,207.7 L450.5,208.5 L452.3,207.5 L452.3,209.3 L454.0,208.3 L454.0,209.1 L456.6,211.3 L458.7,211.8 L460.7,211.5 L460.7,213.0 L462.8,211.9 L462.8,213.5 L464.5,212.1 L464.5,213.3 L466.3,212.7 L468.0,212.4 L468.0,213.0 L469.8,212.3 L469.8,213.1 L471.5,212.7 L473.3,212.7 L475.0,212.0 L475.0,213.4 L476.8,212.0 L476.8,213.2 L478.5,212.3 L478.5,212.7 L480.3,212.4 L482.0,212.0 L482.0,212.6 L483.8,211.9 L483.8,212.5 L485.6,211.6 L485.6,212.8 L487.4,212.0 L487.4,212.4 L489.2,211.6 L489.2,212.8 L491.0,212.2 L492.8,212.0 L492.8,212.4 L494.6,212.0 L494.6,212.4 L496.4,211.9 L496.4,212.5 L498.2,212.0 L498.2,212.4 L500.0,212.2 L501.8,211.9 L501.8,212.5 L503.5,211.9 L503.5,212.6 L505.3,212.2 L507.1,211.8 L507.1,212.7 L508.9,212.1 L508.9,212.5 L510.6,212.1 L510.6,212.5 L512.4,212.1 L512.4,212.5 L514.2,212.1 L514.2,212.6 L516.1,212.0 L516.1,212.6 L517.9,212.0 L517.9,212.6 L519.8,212.3 L521.6,212.3 L523.4,212.3 L525.3,212.1 L525.3,212.6 L527.1,212.4 L529.0,212.4 L530.8,212.1 L530.8,212.6 L532.6,212.4 L534.5,212.4 L536.3,212.1 L536.3,212.7 L538.2,212.4 L540.0,212.2 L540.0,212.6 L541.8,212.2 L541.8,212.5 L543.6,212.3 L545.5,212.0 L545.5,212.5 L547.3,212.0 L547.3,212.5 L549.1,212.1 L549.1,212.3 L550.9,212.0 L550.9,212.3 L552.8,211.8 L552.8,212.3 L554.6,212.0 L556.4,211.9 L556.4,212.1 L558.3,212.1 L560.1,212.1 L560.1,212.4 L562.0,212.2 L562.0,212.6 L563.9,212.3 L563.9,212.8 L565.7,212.4 L565.7,212.9 L567.6,212.6 L567.6,213.0 L569.4,212.7 L569.4,213.2 L571.3,213.1 L573.2,213.2 L575.0,213.2 L575.0,213.5 L576.9,213.3 L576.9,213.7 L578.7,213.5 L580.5,213.4 L580.5,213.6 L582.2,213.3 L582.2,213.8 L584.0,213.3 L584.0,213.8 L585.8,213.4 L585.8,213.7 L587.6,213.6 L589.3,213.4 L589.3,213.7 L591.1,213.4 L591.1,213.7 L592.9,213.6 L594.7,213.4 L594.7,213.7 L596.5,213.5 L596.5,213.7 L598.2,213.3 L598.2,213.9 L600.0,213.5 L600.0,213.7 L601.8,213.6 L603.6,213.6 L605.4,213.6 L607.1,213.5 L607.1,213.8 L608.9,213.4 L608.9,213.9 L610.7,213.5 L610.7,213.8 L612.5,213.7 L614.2,213.5 L614.2,213.9 L616.0,213.4 L616.0,214.0 L617.8,213.6 L617.8,213.8 L619.6,213.4 L619.6,214.0 L621.4,213.4 L621.4,214.0 L623.3,213.5 L623.3,213.9 L625.1,213.7 L626.9,213.5 L626.9,213.9 L628.7,213.5 L628.7,213.9 L630.5,213.5 L630.5,213.9 L632.3,213.4 L632.3,214.0 L634.2,213.5 L634.2,213.9 L636.0,213.6 L636.0,213.8 L637.8,213.5 L637.8,213.9 L639.6,213.6 L639.6,213.8 L641.4,213.5 L641.4,213.9 L643.3,213.5 L643.3,213.9 L645.1,213.5 L645.1,213.9 L646.9,213.6 L646.9,213.8 L648.7,213.6 L648.7,213.8 L650.5,213.7 L652.4,213.6 L652.4,213.8 L654.2,213.4 L654.2,214.0 L656.0,213.6 L656.0,213.8 L657.8,213.6 L657.8,213.8 L659.6,213.6 L659.6,213.8 L661.5,213.6 L661.5,213.8 L663.3,213.5 L663.3,213.9 L665.1,213.7 L666.9,213.7 L668.7,213.4 L668.7,214.0 L670.5,213.5 L670.5,213.9 L672.4,213.7 L674.2,213.4 L674.2,214.0 L676.0,213.7" stroke="#4068e0"/>
<path d="M406.1,225.6 L408.2,211.3 L410.2,195.0 L412.3,182.7 L414.3,174.5 L415.9,182.7 L418.4,172.5 L419.9,177.6 L421.5,181.2 L421.5,184.2 L423.2,179.8 L424.9,175.6 L424.9,178.3 L426.6,174.1 L428.6,179.2 L428.6,182.2 L431.1,174.5 L432.7,180.4 L432.7,183.0 L434.4,180.2 L434.4,181.8 L436.1,178.9 L436.1,181.7 L437.8,178.2 L437.8,181.0 L440.0,181.3 L440.0,182.7 L442.6,185.3 L442.6,187.5 L445.3,188.1 L447.0,191.4 L447.0,193.6 L448.8,192.9 L450.5,192.9 L450.5,193.9 L453.1,195.1 L454.9,193.6 L454.9,194.9 L456.6,193.4 L458.4,198.6 L461.0,201.3 L462.8,200.9 L464.5,200.4 L467.1,201.0 L467.1,201.6 L469.8,202.4 L469.8,203.6 L471.6,203.2 L471.6,203.7 L473.3,203.9 L475.1,204.0 L475.1,204.7 L476.8,204.6 L476.8,205.0 L478.6,204.5 L478.6,205.0 L480.3,204.1 L480.3,205.3 L482.1,204.7 L483.8,204.3 L483.8,204.9 L485.5,204.5 L487.3,204.1 L487.3,204.5 L489.0,203.6 L489.0,204.8 L490.8,203.7 L490.8,204.4 L492.5,203.7 L492.5,204.1 L494.4,204.2 L496.4,203.9 L496.4,204.9 L498.3,204.3 L498.3,205.1 L500.3,204.7 L500.3,205.2 L502.2,204.8 L502.2,205.6 L503.9,205.4 L505.6,205.1 L505.6,206.0 L507.3,205.5 L507.3,205.9 L509.0,205.4 L509.0,206.3 L510.7,205.7 L510.7,206.3 L512.4,205.9 L512.4,206.5 L514.1,206.3 L515.8,206.2 L515.8,206.6 L517.5,206.5 L519.2,206.3 L519.2,206.9 L520.9,206.5 L520.9,206.9 L522.6,206.8 L524.3,206.5 L524.3,207.1 L526.1,206.5 L526.1,207.2 L527.8,206.9 L529.6,206.6 L529.6,207.3 L531.3,206.8 L531.3,207.2 L533.0,206.7 L533.0,207.4 L534.8,206.9 L534.8,207.3 L536.5,207.1 L538.3,207.0 L538.3,207.4 L540.0,206.9 L540.0,207.5 L541.8,207.1 L541.8,207.7 L543.6,207.4 L543.6,207.7 L545.5,207.6 L545.5,207.9 L547.3,207.9 L549.1,208.1 L550.9,208.1 L550.9,208.4 L552.8,208.3 L552.8,208.6 L554.6,208.4 L554.6,208.9 L556.4,208.5 L556.4,209.1 L558.2,208.8 L560.0,208.7 L560.0,209.1 L561.7,208.7 L561.7,209.0 L563.5,208.7 L563.5,209.1 L565.3,208.9 L567.1,208.7 L567.1,209.2 L568.8,208.7 L568.8,209.3 L570.6,208.9 L570.6,209.2 L572.4,208.9 L572.4,209.1 L574.2,209.1 L576.0,208.9 L576.0,209.2 L577.7,208.9 L577.7,209.3 L579.5,208.9 L579.5,209.4 L581.3,209.2 L583.1,209.2 L584.9,209.1 L584.9,209.4 L586.6,209.2 L588.4,209.0 L588.4,209.5 L590.2,209.3 L592.0,209.3 L593.7,209.3 L595.5,209.2 L595.5,209.5 L597.3,209.4 L599.2,209.3 L599.2,209.5 L601.0,209.4 L602.9,209.4 L604.8,209.1 L604.8,209.7 L606.6,209.4 L608.5,209.1 L608.5,209.7 L610.3,209.3 L610.3,209.5 L612.2,209.2 L612.2,209.6 L614.1,209.1 L614.1,209.7 L615.9,209.2 L615.9,209.6 L617.8,209.2 L617.8,209.6 L619.6,209.4 L621.4,209.2 L621.4,209.6 L623.3,209.3 L623.3,209.5 L625.1,209.2 L625.1,209.6 L626.9,209.2 L626.9,209.6 L628.7,209.3 L628.7,209.5 L630.5,209.2 L630.5,209.6 L632.3,209.2 L632.3,209.6 L634.2,209.4 L636.0,209.2 L636.0,209.6 L637.8,209.4 L639.6,209.4 L641.4,209.4 L643.3,209.1 L643.3,209.7 L645.1,209.3 L645.1,209.5 L646.9,209.2 L646.9,209.6 L648.7,209.4 L650.5,209.4 L652.4,209.4 L654.2,209.4 L656.0,209.1 L656.0,209.7 L657.8,209.3 L657.8,209.5 L659.6,209.2 L659.6,209.6 L661.5,209.3 L661.5,209.5 L663.3,209.4 L665.1,209.4 L666.9,209.3 L666.9,209.5 L668.7,209.2 L668.7,209.6 L670.5,209.4 L672.4,209.2 L672.4,209.6 L674.2,209.2 L674.2,209.6 L676.0,209.2 L676.0,209.6" stroke="#ff1717"/>
</g>
<rect x="388.5" y="15.6" width="286.9" height="213.8" fill="none" stroke="#464646" stroke-width="1.1"/>
<line x1="406.43" y1="229.4" x2="406.43" y2="232.4" stroke="#1e1e1e" stroke-width="1.15"/>
<text class="tk" x="406.43" y="241.9" font-size="8.5" letter-spacing="0.3" text-anchor="middle">0.00</text>
<line x1="451.26" y1="229.4" x2="451.26" y2="232.4" stroke="#1e1e1e" stroke-width="1.15"/>
<text class="tk" x="451.26" y="241.9" font-size="8.5" letter-spacing="0.3" text-anchor="middle">0.05</text>
<line x1="496.09" y1="229.4" x2="496.09" y2="232.4" stroke="#1e1e1e" stroke-width="1.15"/>
<text class="tk" x="496.09" y="241.9" font-size="8.5" letter-spacing="0.3" text-anchor="middle">0.10</text>
<line x1="540.92" y1="229.4" x2="540.92" y2="232.4" stroke="#1e1e1e" stroke-width="1.15"/>
<text class="tk" x="540.92" y="241.9" font-size="8.5" letter-spacing="0.3" text-anchor="middle">0.15</text>
<line x1="585.74" y1="229.4" x2="585.74" y2="232.4" stroke="#1e1e1e" stroke-width="1.15"/>
<text class="tk" x="585.74" y="241.9" font-size="8.5" letter-spacing="0.3" text-anchor="middle">0.20</text>
<line x1="630.57" y1="229.4" x2="630.57" y2="232.4" stroke="#1e1e1e" stroke-width="1.15"/>
<text class="tk" x="630.57" y="241.9" font-size="8.5" letter-spacing="0.3" text-anchor="middle">0.25</text>
<line x1="675.40" y1="229.4" x2="675.40" y2="232.4" stroke="#1e1e1e" stroke-width="1.15"/>
<text class="tk" x="675.40" y="241.9" font-size="8.5" letter-spacing="0.3" text-anchor="middle">0.30</text>
<line x1="385.5" y1="225.21" x2="388.5" y2="225.21" stroke="#1e1e1e" stroke-width="1.15"/>
<text class="tk" x="382.6" y="228.91" font-size="8.5" letter-spacing="0.3" text-anchor="end">0.0</text>
<line x1="385.5" y1="183.29" x2="388.5" y2="183.29" stroke="#1e1e1e" stroke-width="1.15"/>
<text class="tk" x="382.6" y="186.99" font-size="8.5" letter-spacing="0.3" text-anchor="end">0.2</text>
<line x1="385.5" y1="141.36" x2="388.5" y2="141.36" stroke="#1e1e1e" stroke-width="1.15"/>
<text class="tk" x="382.6" y="145.06" font-size="8.5" letter-spacing="0.3" text-anchor="end">0.4</text>
<line x1="385.5" y1="99.44" x2="388.5" y2="99.44" stroke="#1e1e1e" stroke-width="1.15"/>
<text class="tk" x="382.6" y="103.14" font-size="8.5" letter-spacing="0.3" text-anchor="end">0.6</text>
<line x1="385.5" y1="57.52" x2="388.5" y2="57.52" stroke="#1e1e1e" stroke-width="1.15"/>
<text class="tk" x="382.6" y="61.22" font-size="8.5" letter-spacing="0.3" text-anchor="end">0.8</text>
<line x1="385.5" y1="15.60" x2="388.5" y2="15.60" stroke="#1e1e1e" stroke-width="1.15"/>
<text class="tk" x="382.6" y="19.30" font-size="8.5" letter-spacing="0.3" text-anchor="end">1.0</text>
<text class="lb" x="532.0" y="10.9" font-size="14.4" text-anchor="middle">PR Curve</text>
<text class="lb" x="532.0" y="255.8" font-size="13.9" text-anchor="middle">Recall</text>
<text class="lb" transform="translate(365.5,123.3) rotate(-90)" font-size="13.7" text-anchor="middle">Precision</text>
<rect x="521.7" y="19.5" width="150.1" height="49.6" rx="2" fill="#fff" fill-opacity="0.85" stroke="#d0d0d0" stroke-width="0.9"/>
<line x1="524.2" y1="26.3" x2="541.8" y2="26.3" stroke="#ffa208" stroke-width="1.6"/>
<text class="lg" x="547.5" y="28.9" font-size="8.5" letter-spacing="0.22">Ridge (AUPR = 0.076)</text>
<line x1="524.2" y1="38.1" x2="541.8" y2="38.1" stroke="#168216" stroke-width="1.6"/>
<text class="lg" x="547.5" y="40.8" font-size="8.5" letter-spacing="0.22">Linear (AUPR = 0.072)</text>
<line x1="524.2" y1="50.0" x2="541.8" y2="50.0" stroke="#4068e0" stroke-width="1.6"/>
<text class="lg" x="547.5" y="52.6" font-size="8.5" letter-spacing="0.22">GRNBoost2 (AUPR = 0.058)</text>
<line x1="524.2" y1="61.8" x2="541.8" y2="61.8" stroke="#ff1717" stroke-width="1.6"/>
<text class="lg" x="547.5" y="64.4" font-size="8.5" letter-spacing="0.22">ModularBoost (AUPR = 0.077)</text>
<text x="175.35" y="288.5" style='font-family:"Liberation Serif", serif;fill:#000;stroke:#000;stroke-width:0.15px' font-size="16.6" text-anchor="middle">SCODE PrE</text>
<text x="527.55" y="288.7" style='font-family:"Liberation Serif", serif;fill:#000;stroke:#000;stroke-width:0.15px' font-size="16.6" text-anchor="middle">SCODE PrE</text>
<clipPath id="c1ROC"><rect x="36.5" y="332.1" width="286.9" height="213.80000000000007"/></clipPath>
<g clip-path="url(#c1ROC)" fill="none" stroke-width="2" stroke-linejoin="round" stroke-linecap="round">
<path d="M41.7,541.6 L41.7,540.6 L42.7,540.6 L42.7,537.6 L43.6,537.6 L43.6,536.6 L44.6,536.6 L44.6,535.5 L45.5,535.5 L45.5,534.5 L46.5,534.5 L46.5,533.5 L47.4,533.5 L47.4,531.5 L48.4,531.5 L48.4,530.5 L49.4,530.5 L49.4,527.7 L50.4,527.7 L50.4,526.7 L53.5,526.7 L53.5,525.8 L53.5,524.8 L54.5,524.8 L54.5,523.8 L58.5,523.8 L58.5,522.9 L60.5,522.9 L60.5,521.9 L61.5,521.9 L61.5,520.9 L62.5,520.9 L62.5,519.9 L63.5,519.9 L63.5,518.9 L65.5,518.9 L65.5,517.8 L66.5,517.8 L66.5,515.8 L67.5,515.8 L67.5,514.9 L68.5,514.9 L68.5,514.0 L71.6,514.0 L71.6,513.1 L73.7,513.1 L74.7,513.1 L74.7,512.0 L76.8,512.0 L76.8,511.0 L79.8,511.0 L80.8,511.0 L80.8,510.1 L82.9,510.1 L82.9,509.2 L85.0,509.2 L85.0,508.3 L85.0,507.4 L88.2,507.4 L88.2,505.7 L90.3,505.7 L90.3,504.8 L90.3,503.8 L93.2,503.8 L93.2,501.9 L96.0,501.9 L96.0,500.9 L97.0,500.9 L97.0,499.0 L99.1,499.0 L99.1,498.0 L100.1,498.0 L100.1,497.0 L101.1,497.0 L101.1,496.1 L103.2,496.1 L103.2,495.1 L104.2,495.1 L104.2,494.1 L105.3,494.1 L105.3,491.2 L106.3,491.2 L106.3,490.2 L108.3,490.2 L108.3,489.3 L110.4,489.3 L110.4,488.3 L111.4,488.3 L111.4,487.2 L112.4,487.2 L112.4,486.1 L113.3,486.1 L113.3,485.0 L117.2,485.0 L117.2,483.9 L119.2,483.9 L121.2,483.9 L121.2,483.0 L122.2,483.0 L122.2,482.0 L124.2,482.0 L124.2,481.1 L125.2,481.1 L125.2,479.2 L129.2,479.2 L129.2,477.3 L130.2,477.3 L132.1,477.3 L132.1,476.2 L134.1,476.2 L134.1,475.1 L136.0,475.1 L136.0,474.0 L137.0,474.0 L137.0,472.9 L138.9,472.9 L138.9,471.9 L141.9,471.9 L141.9,470.1 L142.9,470.1 L142.9,469.1 L143.9,469.1 L143.9,468.2 L146.9,468.2 L146.9,467.2 L147.9,467.2 L147.9,466.3 L148.9,466.3 L148.9,465.3 L149.9,465.3 L150.9,465.3 L150.9,463.4 L151.8,463.4 L151.8,462.5 L153.8,462.5 L153.8,460.6 L156.7,460.6 L156.7,459.6 L157.6,459.6 L157.6,458.7 L158.6,458.7 L158.6,457.7 L160.6,457.7 L160.6,456.7 L161.5,456.7 L161.5,455.8 L162.5,455.8 L162.5,454.8 L163.5,454.8 L163.5,451.9 L166.4,451.9 L166.4,450.9 L167.4,450.9 L167.4,449.9 L169.3,449.9 L169.3,447.8 L172.1,447.8 L172.1,446.7 L173.1,446.7 L173.1,445.6 L174.0,445.6 L174.0,444.7 L176.2,444.7 L176.2,443.8 L177.3,443.8 L177.3,441.0 L178.3,441.0 L178.3,440.1 L180.5,440.1 L180.5,439.0 L181.5,439.0 L181.5,438.0 L183.6,438.0 L183.6,435.9 L184.6,435.9 L184.6,434.8 L186.7,434.8 L186.7,432.7 L187.8,432.7 L187.8,431.6 L188.8,431.6 L188.8,430.5 L191.7,430.5 L191.7,429.4 L193.6,429.4 L193.6,428.4 L195.6,428.4 L195.6,427.3 L196.5,427.3 L196.5,426.2 L197.5,426.2 L199.5,426.2 L199.5,424.0 L204.3,424.0 L204.3,422.9 L205.3,422.9 L205.3,421.8 L206.3,421.8 L206.3,420.8 L207.4,420.8 L207.4,418.9 L208.5,418.9 L208.5,418.0 L210.6,418.0 L210.6,415.1 L211.7,415.1 L211.7,414.1 L212.8,414.1 L214.8,414.1 L214.8,411.2 L215.8,411.2 L215.8,410.2 L216.8,410.2 L216.8,409.3 L219.8,409.3 L219.8,408.3 L220.8,408.3 L220.8,407.3 L221.8,407.3 L221.8,406.4 L222.8,406.4 L222.8,405.4 L223.8,405.4 L225.8,405.4 L225.8,404.5 L227.8,404.5 L227.8,403.6 L229.7,403.6 L229.7,402.6 L231.7,402.6 L231.7,400.8 L234.7,400.8 L234.7,399.9 L235.7,399.9 L235.7,399.0 L236.7,399.0 L236.7,397.1 L238.7,397.1 L238.7,396.1 L239.7,396.1 L239.7,395.2 L243.7,395.2 L243.7,394.2 L245.7,394.2 L245.7,393.3 L245.7,392.3 L247.6,392.3 L247.6,391.4 L248.5,391.4 L248.5,388.5 L251.4,388.5 L251.4,385.6 L252.3,385.6 L253.3,385.6 L253.3,384.7 L255.3,384.7 L255.3,383.7 L256.3,383.7 L256.3,381.8 L258.2,381.8 L258.2,379.9 L261.2,379.9 L261.2,378.0 L263.2,378.0 L264.2,378.0 L264.2,377.0 L265.2,377.0 L265.2,375.1 L266.1,375.1 L266.1,373.1 L267.1,373.1 L267.1,372.1 L270.0,372.1 L270.0,369.2 L272.0,369.2 L272.0,368.2 L274.0,368.2 L274.0,367.2 L276.0,367.2 L276.0,366.3 L277.0,366.3 L277.0,365.3 L277.9,365.3 L277.9,364.3 L278.9,364.3 L278.9,361.4 L281.9,361.4 L281.9,360.4 L282.9,360.4 L282.9,359.4 L283.9,359.4 L283.9,358.5 L284.9,358.5 L284.9,357.6 L285.8,357.6 L285.8,356.6 L288.8,356.6 L288.8,354.8 L290.7,354.8 L290.7,353.9 L291.7,353.9 L292.7,353.9 L292.7,353.0 L294.6,353.0 L294.6,351.1 L297.5,351.1 L297.5,350.2 L298.5,350.2 L298.5,348.4 L300.4,348.4 L300.4,347.3 L303.3,347.3 L303.3,346.2 L304.3,346.2 L304.3,344.1 L305.3,344.1 L305.3,343.0 L307.2,343.0 L307.2,341.9 L309.2,341.9 L310.2,341.9 L310.2,340.9 L312.1,340.9 L312.1,339.9 L313.1,339.9 L313.1,338.0 L315.0,338.0 L315.0,337.0 L316.9,337.0 L316.9,336.0 L317.9,336.0" stroke="#ffa208"/>
<path d="M41.7,541.6 L41.7,539.7 L42.7,539.7 L42.7,538.8 L44.6,538.8 L44.6,535.9 L45.6,535.9 L45.6,535.0 L46.5,535.0 L46.5,534.1 L47.4,534.1 L47.4,533.2 L48.2,533.2 L48.2,531.5 L49.1,531.5 L49.1,530.4 L51.3,530.4 L51.3,529.3 L52.4,529.3 L52.4,527.2 L53.5,527.2 L53.5,526.3 L56.7,526.3 L56.7,524.6 L58.8,524.6 L58.8,523.7 L58.8,522.8 L59.7,522.8 L59.7,521.1 L60.5,521.1 L60.5,520.2 L62.3,520.2 L63.2,520.2 L63.2,519.1 L64.0,519.1 L64.0,517.0 L64.9,517.0 L64.9,516.0 L65.8,516.0 L65.8,514.9 L65.8,514.0 L67.5,514.0 L67.5,513.1 L69.3,513.1 L69.3,512.2 L71.5,512.2 L71.5,510.5 L73.7,510.5 L73.7,509.6 L75.9,509.6 L75.9,508.8 L78.0,508.8 L78.0,507.9 L79.8,507.9 L79.8,506.1 L81.5,506.1 L81.5,504.4 L82.4,504.4 L82.4,503.3 L84.1,503.3 L84.1,500.0 L85.0,500.0 L85.0,499.1 L86.1,499.1 L86.1,497.4 L88.3,497.4 L88.3,496.5 L89.4,496.5 L89.4,495.4 L90.3,495.4 L90.3,494.3 L92.9,494.3 L92.9,493.4 L96.0,493.4 L96.0,492.2 L98.6,492.2 L98.6,491.0 L99.5,491.0 L101.5,491.0 L101.5,489.0 L104.5,489.0 L104.5,488.0 L105.4,488.0 L105.4,486.9 L106.4,486.9 L106.4,485.9 L108.4,485.9 L108.4,483.9 L110.4,483.9 L110.4,482.9 L111.4,482.9 L111.4,481.9 L113.4,481.9 L113.4,481.0 L115.4,481.0 L115.4,480.0 L117.4,480.0 L117.4,479.0 L118.4,479.0 L118.4,478.0 L119.4,478.0 L119.4,477.1 L120.4,477.1 L120.4,476.1 L121.4,476.1 L121.4,475.1 L121.4,474.1 L124.4,474.1 L124.4,473.2 L125.4,473.2 L125.4,472.2 L126.4,472.2 L126.4,471.2 L127.3,471.2 L127.3,470.3 L129.3,470.3 L129.3,469.3 L130.3,469.3 L130.3,468.3 L131.3,468.3 L131.3,466.4 L132.3,466.4 L135.1,466.4 L135.1,464.2 L138.9,464.2 L140.9,464.2 L140.9,463.2 L141.8,463.2 L141.8,462.3 L142.8,462.3 L142.8,459.4 L144.8,459.4 L144.8,458.4 L146.7,458.4 L146.7,456.5 L147.7,456.5 L147.7,455.5 L150.7,455.5 L150.7,454.6 L151.7,454.6 L151.7,453.6 L153.6,453.6 L153.6,452.7 L154.6,452.7 L154.6,450.7 L157.6,450.7 L157.6,449.8 L158.6,449.8 L158.6,448.8 L158.6,447.7 L160.6,447.7 L160.6,446.6 L161.6,446.6 L161.6,445.6 L165.6,445.6 L165.6,444.5 L166.6,444.5 L166.6,443.4 L168.6,443.4 L168.6,442.3 L169.6,442.3 L169.6,441.3 L172.5,441.3 L172.5,440.4 L173.5,440.4 L173.5,439.4 L174.4,439.4 L174.4,438.5 L175.4,438.5 L175.4,437.5 L176.4,437.5 L176.4,434.6 L178.3,434.6 L178.3,433.5 L179.4,433.5 L179.4,432.5 L183.6,432.5 L183.6,430.4 L184.6,430.4 L184.6,429.3 L185.7,429.3 L185.7,428.3 L188.8,428.3 L188.8,427.2 L189.8,427.2 L189.8,425.0 L191.7,425.0 L191.7,424.0 L195.6,424.0 L195.6,422.9 L197.5,422.9 L197.5,421.8 L197.5,420.8 L199.5,420.8 L199.5,419.9 L201.4,419.9 L201.4,418.0 L203.4,418.0 L203.4,416.0 L205.3,416.0 L205.3,414.1 L206.3,414.1 L206.3,413.2 L209.2,413.2 L209.2,412.2 L210.2,412.2 L210.2,410.3 L212.1,410.3 L212.1,408.4 L213.1,408.4 L213.1,407.5 L215.0,407.5 L215.0,406.4 L217.0,406.4 L217.0,405.3 L219.9,405.3 L219.9,403.2 L220.9,403.2 L220.9,402.1 L223.8,402.1 L225.8,402.1 L225.8,400.3 L229.7,400.3 L229.7,399.3 L230.7,399.3 L230.7,397.5 L233.7,397.5 L233.7,396.6 L234.7,396.6 L234.7,395.7 L235.7,395.7 L235.7,394.8 L237.6,394.8 L237.6,393.8 L238.6,393.8 L238.6,392.9 L239.6,392.9 L239.6,392.0 L242.5,392.0 L242.5,391.1 L243.5,391.1 L245.5,391.1 L245.5,390.0 L247.4,390.0 L247.4,388.9 L248.4,388.9 L248.4,387.8 L250.3,387.8 L250.3,386.7 L252.3,386.7 L252.3,385.8 L253.3,385.8 L253.3,384.8 L256.2,384.8 L256.2,382.9 L257.1,382.9 L257.1,382.0 L259.1,382.0 L259.1,381.0 L260.0,381.0 L260.0,380.1 L261.0,380.1 L261.0,379.1 L262.0,379.1 L262.0,378.2 L263.9,378.2 L263.9,376.3 L265.9,376.3 L265.9,375.4 L268.8,375.4 L268.8,373.6 L269.8,373.6 L270.9,373.6 L270.9,372.7 L272.0,372.7 L272.0,371.7 L273.0,371.7 L273.0,369.8 L274.1,369.8 L274.1,368.9 L275.2,368.9 L275.2,367.9 L276.3,367.9 L276.3,367.0 L278.3,367.0 L278.3,366.0 L279.2,366.0 L279.2,365.1 L280.2,365.1 L280.2,361.2 L282.2,361.2 L282.2,359.3 L285.1,359.3 L285.1,358.3 L286.0,358.3 L286.0,356.5 L288.9,356.5 L288.9,355.5 L289.8,355.5 L289.8,354.6 L290.8,354.6 L290.8,352.8 L291.7,352.8 L293.9,352.8 L293.9,350.6 L297.1,350.6 L297.1,349.5 L298.2,349.5 L299.1,349.5 L299.1,348.4 L300.1,348.4 L300.1,347.3 L304.8,347.3 L304.8,346.4 L305.7,346.4 L305.7,344.5 L308.6,344.5 L308.6,343.5 L309.5,343.5 L309.5,341.6 L311.4,341.6 L311.4,339.7 L311.4,338.8 L312.5,338.8 L312.5,337.8 L314.6,337.8 L314.6,336.9 L315.7,336.9 L315.7,336.0 L317.9,336.0" stroke="#168216"/>
<path d="M42.3,541.9 L43.0,541.9 L43.0,541.6 L43.0,539.6 L44.7,539.6 L44.7,537.7 L45.6,537.7 L45.6,536.7 L46.5,536.7 L46.5,535.6 L47.4,535.6 L47.4,534.6 L49.1,534.6 L49.1,533.6 L50.2,533.6 L50.2,532.7 L51.3,532.7 L51.3,530.8 L53.5,530.8 L53.5,529.8 L53.5,528.7 L54.6,528.7 L54.6,527.6 L57.7,527.6 L57.7,525.4 L58.8,525.4 L58.8,524.5 L60.9,524.5 L60.9,523.6 L63.0,523.6 L63.0,522.8 L64.0,522.8 L64.0,521.9 L66.2,521.9 L66.2,519.3 L67.3,519.3 L67.3,518.4 L68.4,518.4 L70.6,518.4 L70.6,517.1 L72.8,517.1 L73.9,517.1 L73.9,516.2 L76.1,516.2 L76.1,515.4 L77.2,515.4 L77.2,514.5 L80.2,514.5 L80.2,512.3 L83.3,512.3 L83.3,511.4 L86.6,511.4 L86.6,510.5 L87.7,510.5 L89.5,510.5 L89.5,508.8 L90.3,508.8 L90.3,507.9 L91.2,507.9 L91.2,507.0 L93.1,507.0 L93.1,506.1 L94.1,506.1 L94.1,504.4 L96.0,504.4 L96.0,503.5 L97.0,503.5 L97.0,502.4 L98.9,502.4 L98.9,501.4 L99.8,501.4 L99.8,500.3 L101.7,500.3 L103.6,500.3 L103.6,499.2 L104.6,499.2 L104.6,498.1 L110.4,498.1 L110.4,497.0 L110.4,496.0 L112.3,496.0 L112.3,495.1 L113.2,495.1 L113.2,494.1 L114.2,494.1 L114.2,493.1 L115.1,493.1 L115.1,490.2 L117.0,490.2 L117.0,488.3 L119.8,488.3 L119.8,487.2 L122.7,487.2 L122.7,486.1 L123.6,486.1 L123.6,485.1 L125.5,485.1 L125.5,484.2 L126.4,484.2 L126.4,483.2 L127.4,483.2 L127.4,482.3 L128.3,482.3 L128.3,481.3 L129.3,481.3 L129.3,479.4 L130.2,479.4 L130.2,478.4 L130.2,477.5 L133.2,477.5 L133.2,476.6 L136.1,476.6 L136.1,475.6 L138.1,475.6 L138.1,474.7 L139.1,474.7 L139.1,473.8 L140.1,473.8 L140.1,472.9 L141.1,472.9 L143.1,472.9 L143.1,471.8 L145.1,471.8 L145.1,470.7 L146.1,470.7 L146.1,469.7 L147.0,469.7 L147.0,468.6 L149.0,468.6 L149.0,467.5 L150.0,467.5 L150.0,466.4 L152.0,466.4 L154.0,466.4 L154.0,465.4 L155.0,465.4 L155.0,462.6 L157.0,462.6 L157.0,461.6 L161.0,461.6 L161.0,458.7 L163.0,458.7 L163.0,457.7 L164.0,457.7 L164.0,456.8 L166.0,456.8 L166.0,455.8 L167.0,455.8 L167.0,454.9 L170.0,454.9 L170.0,453.9 L172.0,453.9 L172.0,452.9 L173.0,452.9 L173.0,451.0 L174.0,451.0 L174.0,450.0 L176.0,450.0 L176.0,449.0 L177.0,449.0 L177.0,447.1 L177.9,447.1 L177.9,446.1 L179.9,446.1 L179.9,445.1 L180.9,445.1 L180.9,444.2 L181.9,444.2 L181.9,443.2 L182.9,443.2 L182.9,442.2 L185.8,442.2 L185.8,440.3 L187.8,440.3 L187.8,439.3 L188.8,439.3 L190.7,439.3 L190.7,438.3 L191.7,438.3 L191.7,437.3 L192.7,437.3 L192.7,435.4 L193.6,435.4 L193.6,434.4 L194.6,434.4 L194.6,433.4 L195.6,433.4 L195.6,431.5 L197.5,431.5 L197.5,430.5 L199.5,430.5 L199.5,428.3 L202.4,428.3 L202.4,427.3 L204.3,427.3 L204.3,425.1 L206.3,425.1 L207.3,425.1 L207.3,424.1 L209.3,424.1 L209.3,421.3 L211.3,421.3 L211.3,420.3 L213.2,420.3 L213.2,419.3 L214.2,419.3 L214.2,418.4 L216.2,418.4 L216.2,417.4 L217.2,417.4 L217.2,416.5 L219.2,416.5 L219.2,415.6 L221.2,415.6 L221.2,414.6 L225.2,414.6 L225.2,412.8 L228.2,412.8 L228.2,411.9 L228.2,411.0 L229.2,411.0 L229.2,410.1 L231.2,410.1 L231.2,409.1 L232.2,409.1 L232.2,408.2 L236.1,408.2 L236.1,406.4 L239.1,406.4 L240.1,406.4 L240.1,404.5 L241.1,404.5 L241.1,403.6 L245.1,403.6 L245.1,401.7 L246.1,401.7 L246.1,400.7 L247.1,400.7 L247.1,399.8 L249.1,399.8 L249.1,398.8 L250.1,398.8 L250.1,397.9 L252.9,397.9 L252.9,397.0 L253.8,397.0 L253.8,394.2 L255.7,394.2 L255.7,393.3 L256.6,393.3 L256.6,391.3 L257.5,391.3 L257.5,390.4 L259.4,390.4 L259.4,389.4 L260.4,389.4 L260.4,387.4 L262.3,387.4 L262.3,385.5 L263.2,385.5 L263.2,383.5 L263.2,382.6 L265.1,382.6 L265.1,381.7 L266.0,381.7 L266.0,380.7 L267.9,380.7 L267.9,378.0 L269.8,378.0 L269.8,377.0 L271.7,377.0 L271.7,375.1 L273.7,375.1 L273.7,373.1 L274.6,373.1 L274.6,372.1 L277.5,372.1 L277.5,371.2 L278.5,371.2 L278.5,369.2 L279.5,369.2 L279.5,368.3 L281.4,368.3 L281.4,366.4 L282.4,366.4 L282.4,365.5 L284.4,365.5 L284.4,364.6 L286.3,364.6 L286.3,363.7 L287.3,363.7 L289.2,363.7 L289.2,361.5 L290.2,361.5 L290.2,360.5 L294.1,360.5 L294.1,359.4 L295.0,359.4 L295.0,358.3 L296.0,358.3 L296.0,357.2 L296.9,357.2 L296.9,356.1 L298.8,356.1 L298.8,355.0 L301.7,355.0 L301.7,353.9 L302.6,353.9 L303.7,353.9 L303.7,353.0 L304.8,353.0 L304.8,349.2 L305.9,349.2 L305.9,348.2 L307.0,348.2 L307.0,347.3 L307.0,345.1 L308.1,345.1 L308.1,344.1 L309.2,344.1 L309.2,343.0 L311.4,343.0 L311.4,340.8 L311.4,339.8 L314.6,339.8 L314.6,338.9 L315.7,338.9 L315.7,337.0 L316.8,337.0 L316.8,336.0 L317.9,336.0" stroke="#4068e0"/>
<path d="M41.7,541.6 L42.8,541.6 L42.8,537.7 L43.9,537.7 L43.9,533.8 L45.6,533.8 L45.6,529.8 L45.6,528.9 L46.5,528.9 L46.5,527.2 L48.3,527.2 L48.3,526.3 L49.3,526.3 L49.3,524.5 L51.3,524.5 L51.3,522.8 L53.0,522.8 L53.0,520.2 L53.9,520.2 L53.9,519.3 L54.8,519.3 L54.8,517.5 L55.8,517.5 L55.8,516.7 L57.9,516.7 L57.9,515.8 L57.9,514.7 L59.6,514.7 L59.6,513.7 L60.5,513.7 L60.5,510.5 L61.4,510.5 L62.3,510.5 L62.3,508.5 L64.0,508.5 L64.0,506.6 L64.9,506.6 L65.8,506.6 L65.8,504.5 L67.5,504.5 L67.5,503.5 L68.4,503.5 L68.4,502.6 L70.6,502.6 L70.6,500.9 L71.7,500.9 L71.7,500.0 L72.8,500.0 L75.0,500.0 L75.0,497.8 L77.2,497.8 L77.2,496.5 L81.5,496.5 L81.5,495.6 L82.6,495.6 L82.6,494.8 L84.8,494.8 L84.8,493.9 L85.9,493.9 L85.9,493.0 L87.0,493.0 L87.0,492.2 L88.1,492.2 L88.1,491.3 L90.3,491.3 L93.2,491.3 L93.2,490.4 L94.1,490.4 L94.1,489.5 L96.0,489.5 L96.0,488.6 L97.8,488.6 L97.8,487.6 L99.5,487.6 L99.5,486.6 L102.5,486.6 L102.5,485.6 L104.5,485.6 L104.5,484.6 L105.4,484.6 L105.4,482.6 L106.4,482.6 L106.4,481.6 L110.4,481.6 L110.4,480.6 L112.4,480.6 L112.4,479.6 L113.4,479.6 L113.4,478.6 L114.4,478.6 L114.4,476.7 L116.4,476.7 L116.4,475.7 L117.4,475.7 L117.4,473.8 L118.4,473.8 L118.4,472.8 L120.4,472.8 L120.4,471.8 L121.4,471.8 L121.4,470.7 L123.4,470.7 L123.4,469.6 L124.3,469.6 L124.3,468.6 L128.2,468.6 L128.2,467.5 L130.2,467.5 L130.2,466.4 L133.1,466.4 L133.1,465.3 L134.1,465.3 L134.1,464.2 L138.9,464.2 L138.9,463.1 L140.0,463.1 L140.0,460.9 L142.2,460.9 L142.2,459.8 L143.3,459.8 L143.3,458.7 L145.2,458.7 L145.2,456.5 L148.0,456.5 L148.0,455.4 L149.9,455.4 L151.8,455.4 L151.8,453.5 L152.8,453.5 L152.8,452.5 L154.7,452.5 L154.7,451.5 L155.7,451.5 L155.7,450.6 L156.7,450.6 L156.7,447.7 L158.6,447.7 L158.6,446.7 L160.6,446.7 L160.6,445.8 L161.5,445.8 L161.5,442.9 L162.5,442.9 L162.5,442.0 L164.5,442.0 L164.5,441.0 L166.4,441.0 L166.4,440.1 L167.4,440.1 L168.4,440.1 L168.4,439.0 L169.3,439.0 L169.3,437.9 L173.2,437.9 L173.2,436.8 L174.2,436.8 L174.2,435.7 L176.1,435.7 L177.2,435.7 L177.2,432.9 L178.3,432.9 L178.3,432.0 L179.4,432.0 L179.4,431.1 L180.5,431.1 L180.5,430.2 L182.6,430.2 L182.6,428.1 L184.6,428.1 L184.6,426.1 L185.7,426.1 L185.7,425.0 L187.8,425.0 L187.8,424.0 L188.8,424.0 L190.7,424.0 L190.7,423.1 L191.7,423.1 L191.7,421.2 L194.6,421.2 L194.6,420.3 L196.5,420.3 L196.5,418.5 L197.5,418.5 L197.5,417.6 L200.4,417.6 L200.4,416.7 L202.4,416.7 L202.4,415.7 L203.4,415.7 L203.4,414.8 L205.3,414.8 L205.3,413.0 L206.3,413.0 L208.2,413.0 L208.2,411.2 L209.2,411.2 L209.2,410.2 L212.1,410.2 L212.1,408.4 L213.1,408.4 L213.1,407.5 L215.0,407.5 L216.0,407.5 L216.0,406.5 L217.0,406.5 L217.0,404.6 L217.9,404.6 L217.9,402.7 L218.9,402.7 L218.9,401.7 L220.9,401.7 L220.9,399.8 L223.8,399.8 L223.8,398.8 L225.8,398.8 L225.8,397.9 L226.7,397.9 L226.7,397.0 L227.7,397.0 L227.7,396.0 L229.7,396.0 L229.7,395.1 L231.6,395.1 L231.6,394.2 L232.6,394.2 L232.6,393.3 L232.6,392.4 L233.6,392.4 L233.6,391.5 L238.5,391.5 L238.5,388.7 L242.5,388.7 L242.5,387.8 L243.5,387.8 L244.4,387.8 L244.4,386.7 L246.3,386.7 L246.3,385.7 L249.2,385.7 L249.2,384.6 L250.1,384.6 L250.1,382.7 L252.9,382.7 L252.9,381.7 L253.8,381.7 L253.8,378.8 L254.7,378.8 L254.7,377.9 L255.7,377.9 L255.7,376.9 L256.6,376.9 L258.5,376.9 L258.5,375.8 L260.4,375.8 L260.4,374.7 L262.3,374.7 L262.3,373.6 L263.2,373.6 L264.2,373.6 L264.2,372.6 L265.2,372.6 L265.2,370.7 L267.1,370.7 L267.1,368.8 L270.0,368.8 L270.0,367.8 L271.0,367.8 L271.0,366.9 L272.0,366.9 L272.0,365.9 L273.9,365.9 L273.9,364.8 L274.9,364.8 L274.9,363.7 L276.8,363.7 L276.8,360.5 L280.7,360.5 L280.7,359.4 L281.7,359.4 L281.7,358.5 L282.7,358.5 L282.7,357.5 L284.6,357.5 L284.6,356.6 L285.6,356.6 L285.6,355.6 L286.6,355.6 L286.6,354.7 L288.5,354.7 L288.5,353.7 L289.5,353.7 L289.5,352.8 L289.5,351.9 L291.7,351.9 L291.7,350.0 L292.7,350.0 L292.7,349.1 L293.8,349.1 L293.8,348.2 L294.9,348.2 L294.9,347.3 L296.0,347.3 L298.8,347.3 L298.8,345.1 L302.6,345.1 L302.6,344.0 L304.5,344.0 L304.5,342.9 L306.4,342.9 L306.4,341.9 L308.3,341.9 L308.3,340.8 L309.2,340.8 L309.2,339.7 L311.4,339.7 L311.4,336.4 L313.6,336.4 L313.6,336.0 L317.9,336.0" stroke="#ff1717"/>
</g>
<rect x="36.5" y="332.1" width="286.9" height="213.80000000000007" fill="none" stroke="#464646" stroke-width="1.1"/>
<line x1="42.02" y1="545.9000000000001" x2="42.02" y2="548.9000000000001" stroke="#1e1e1e" stroke-width="1.15"/>
<text class="tk" x="42.02" y="558.4000000000001" font-size="8.5" letter-spacing="0.3" text-anchor="middle">0.0</text>
<line x1="97.19" y1="545.9000000000001" x2="97.19" y2="548.9000000000001" stroke="#1e1e1e" stroke-width="1.15"/>
<text class="tk" x="97.19" y="558.4000000000001" font-size="8.5" letter-spacing="0.3" text-anchor="middle">0.2</text>
<line x1="152.36" y1="545.9000000000001" x2="152.36" y2="548.9000000000001" stroke="#1e1e1e" stroke-width="1.15"/>
<text class="tk" x="152.36" y="558.4000000000001" font-size="8.5" letter-spacing="0.3" text-anchor="middle">0.4</text>
<line x1="207.54" y1="545.9000000000001" x2="207.54" y2="548.9000000000001" stroke="#1e1e1e" stroke-width="1.15"/>
<text class="tk" x="207.54" y="558.4000000000001" font-size="8.5" letter-spacing="0.3" text-anchor="middle">0.6</text>
<line x1="262.71" y1="545.9000000000001" x2="262.71" y2="548.9000000000001" stroke="#1e1e1e" stroke-width="1.15"/>
<text class="tk" x="262.71" y="558.4000000000001" font-size="8.5" letter-spacing="0.3" text-anchor="middle">0.8</text>
<line x1="317.88" y1="545.9000000000001" x2="317.88" y2="548.9000000000001" stroke="#1e1e1e" stroke-width="1.15"/>
<text class="tk" x="317.88" y="558.4000000000001" font-size="8.5" letter-spacing="0.3" text-anchor="middle">1.0</text>
<line x1="33.5" y1="541.79" x2="36.5" y2="541.79" stroke="#1e1e1e" stroke-width="1.15"/>
<text class="tk" x="30.6" y="545.49" font-size="8.5" letter-spacing="0.3" text-anchor="end">0.0</text>
<line x1="33.5" y1="500.67" x2="36.5" y2="500.67" stroke="#1e1e1e" stroke-width="1.15"/>
<text class="tk" x="30.6" y="504.37" font-size="8.5" letter-spacing="0.3" text-anchor="end">0.2</text>
<line x1="33.5" y1="459.56" x2="36.5" y2="459.56" stroke="#1e1e1e" stroke-width="1.15"/>
<text class="tk" x="30.6" y="463.26" font-size="8.5" letter-spacing="0.3" text-anchor="end">0.4</text>
<line x1="33.5" y1="418.44" x2="36.5" y2="418.44" stroke="#1e1e1e" stroke-width="1.15"/>
<text class="tk" x="30.6" y="422.14" font-size="8.5" letter-spacing="0.3" text-anchor="end">0.6</text>
<line x1="33.5" y1="377.33" x2="36.5" y2="377.33" stroke="#1e1e1e" stroke-width="1.15"/>
<text class="tk" x="30.6" y="381.03" font-size="8.5" letter-spacing="0.3" text-anchor="end">0.8</text>
<line x1="33.5" y1="336.21" x2="36.5" y2="336.21" stroke="#1e1e1e" stroke-width="1.15"/>
<text class="tk" x="30.6" y="339.91" font-size="8.5" letter-spacing="0.3" text-anchor="end">1.0</text>
<text class="lb" x="179.9" y="327.4" font-size="14.4" text-anchor="middle">ROC Curve</text>
<text class="lb" x="179.9" y="572.3" font-size="13.9" text-anchor="middle">FPR</text>
<text class="lb" transform="translate(12.0,439.8) rotate(-90)" font-size="13.7" text-anchor="middle">TPR</text>
<rect x="40.5" y="336.0" width="156.8" height="49.6" rx="2" fill="#fff" fill-opacity="0.85" stroke="#d0d0d0" stroke-width="0.9"/>
<line x1="43.0" y1="342.8" x2="60.6" y2="342.8" stroke="#ffa208" stroke-width="1.6"/>
<text class="lg" x="66.3" y="345.4" font-size="8.5" letter-spacing="0.22">Ridge (AUROC = 0.502)</text>
<line x1="43.0" y1="354.7" x2="60.6" y2="354.7" stroke="#168216" stroke-width="1.6"/>
<text class="lg" x="66.3" y="357.3" font-size="8.5" letter-spacing="0.22">Linear (AUROC = 0.516)</text>
<line x1="43.0" y1="366.5" x2="60.6" y2="366.5" stroke="#4068e0" stroke-width="1.6"/>
<text class="lg" x="66.3" y="369.1" font-size="8.5" letter-spacing="0.22">GRNBoost2 (AUROC = 0.474)</text>
<line x1="43.0" y1="378.4" x2="60.6" y2="378.4" stroke="#ff1717" stroke-width="1.6"/>
<text class="lg" x="66.3" y="381.0" font-size="8.5" letter-spacing="0.22">ModularBoost (AUROC = 0.540)</text>
<clipPath id="c1PR"><rect x="388.5" y="332.1" width="286.9" height="213.80000000000007"/></clipPath>
<g clip-path="url(#c1PR)" fill="none" stroke-width="2" stroke-linejoin="round" stroke-linecap="round">
<path d="M407.0,541.7 L410.3,500.0 L410.5,436.7 L410.6,492.5 L411.9,495.3 L414.0,500.1 L416.1,505.0 L417.5,503.7 L417.5,504.9 L418.9,503.6 L420.3,509.2 L421.7,508.5 L421.7,511.3 L423.1,509.6 L423.1,511.6 L425.2,509.9 L425.2,512.0 L427.3,510.0 L427.3,512.6 L428.0,517.6 L429.7,518.0 L431.4,518.3 L433.5,516.6 L433.5,519.3 L435.6,516.7 L435.6,518.5 L436.3,520.3 L437.9,519.7 L437.9,520.9 L439.5,519.8 L439.5,520.8 L441.0,519.3 L441.0,521.3 L442.6,519.2 L442.6,521.4 L444.5,519.6 L446.3,517.9 L446.3,520.0 L448.2,517.9 L448.2,518.7 L450.0,518.1 L451.9,516.9 L451.9,518.8 L453.7,517.0 L453.7,518.2 L455.6,517.8 L457.4,518.1 L459.3,518.0 L459.3,518.6 L461.0,518.0 L461.0,519.2 L462.7,518.1 L462.7,519.6 L464.3,519.1 L466.0,518.7 L466.0,520.1 L467.7,519.3 L467.7,520.1 L470.0,519.1 L472.0,518.6 L472.0,519.6 L474.0,518.8 L474.0,519.4 L476.0,518.7 L476.0,519.5 L478.0,519.8 L478.0,520.4 L480.0,521.1 L482.0,522.1 L483.8,522.0 L483.8,522.5 L485.6,522.1 L485.6,522.7 L487.4,522.2 L487.4,522.9 L489.2,522.7 L491.1,522.9 L492.9,522.7 L492.9,523.3 L494.7,523.1 L496.5,523.3 L498.3,523.5 L500.1,523.6 L501.9,523.3 L501.9,524.1 L503.6,523.8 L505.4,523.8 L505.4,524.2 L507.2,524.1 L509.0,523.9 L509.0,524.5 L510.7,524.0 L510.7,524.7 L512.5,524.2 L512.5,524.7 L514.3,524.3 L514.3,524.9 L516.0,524.3 L516.0,525.1 L517.8,524.7 L517.8,525.0 L519.6,524.7 L519.6,525.2 L521.3,525.1 L523.1,524.9 L523.1,525.5 L524.9,525.1 L524.9,525.6 L526.7,525.1 L526.7,525.8 L528.4,525.6 L530.2,525.5 L530.2,525.9 L532.0,525.6 L532.0,525.9 L533.7,525.6 L533.7,526.0 L535.5,525.9 L537.3,525.8 L537.3,526.1 L539.0,525.8 L539.0,526.1 L540.8,525.9 L540.8,526.2 L542.6,525.8 L542.6,526.3 L544.3,525.9 L544.3,526.4 L546.1,526.2 L547.8,525.9 L547.8,526.6 L549.6,526.3 L551.4,526.1 L551.4,526.6 L553.1,526.1 L553.1,526.6 L554.9,526.1 L554.9,526.7 L556.7,526.4 L556.7,526.6 L558.4,526.3 L558.4,526.8 L560.2,526.4 L560.2,526.8 L562.0,526.6 L563.7,526.5 L563.7,526.8 L565.5,526.7 L567.3,526.6 L567.3,526.8 L569.1,526.8 L570.8,526.8 L572.6,526.6 L572.6,527.1 L574.4,526.9 L576.1,526.7 L576.1,527.1 L577.9,526.8 L577.9,527.1 L579.7,526.7 L579.7,527.2 L581.4,527.0 L583.2,526.8 L583.2,527.3 L585.0,526.9 L585.0,527.3 L586.8,526.8 L586.8,527.4 L588.5,527.2 L590.3,526.9 L590.3,527.5 L592.1,527.0 L592.1,527.4 L593.8,526.8 L593.8,527.4 L595.6,527.1 L597.4,527.1 L599.2,526.9 L599.2,527.2 L600.9,526.8 L600.9,527.2 L602.7,526.7 L602.7,527.2 L604.5,526.8 L604.5,527.1 L606.2,526.9 L608.0,526.6 L608.0,527.1 L609.8,526.8 L611.5,526.8 L613.3,526.5 L613.3,527.0 L615.1,526.7 L616.9,526.5 L616.9,526.8 L618.6,526.4 L618.6,526.8 L620.4,526.6 L622.2,526.4 L622.2,526.8 L624.0,526.6 L625.8,526.4 L625.8,526.8 L627.6,526.3 L627.6,526.9 L629.4,526.4 L629.4,526.8 L631.2,526.6 L633.0,526.4 L633.0,526.8 L634.7,526.4 L634.7,526.8 L636.5,526.3 L636.5,526.9 L638.3,526.5 L638.3,526.7 L640.1,526.3 L640.1,526.9 L641.9,526.6 L643.7,526.3 L643.7,526.9 L645.5,526.4 L645.5,526.8 L647.3,526.4 L647.3,526.8 L649.1,526.4 L649.1,526.8 L650.9,526.5 L650.9,526.7 L652.7,526.4 L652.7,526.8 L654.5,526.4 L654.5,526.8 L656.3,526.3 L656.3,526.9 L658.1,526.3 L658.1,526.9 L659.9,526.3 L659.9,526.9 L661.7,526.6 L663.4,526.6 L665.2,526.4 L665.2,526.8 L667.0,526.4 L667.0,526.8 L668.8,526.5 L668.8,526.7 L670.6,526.4 L670.6,526.8 L672.4,526.3 L672.4,526.9 L674.2,526.3 L674.2,526.9 L676.0,526.6" stroke="#ffa208"/>
<path d="M409.1,495.3 L410.5,530.8 L414.7,524.5 L416.6,520.3 L416.6,523.2 L418.4,519.0 L420.3,516.2 L422.4,514.1 L424.5,512.0 L426.6,511.1 L426.6,512.2 L428.7,511.3 L430.8,511.2 L430.8,513.5 L432.8,512.5 L432.8,514.3 L434.9,514.5 L437.0,514.6 L437.0,516.4 L438.4,515.1 L438.4,518.0 L439.8,516.4 L439.8,518.8 L441.6,516.7 L441.6,519.2 L443.3,518.3 L445.1,518.6 L446.8,518.3 L446.8,519.7 L448.5,518.8 L450.2,518.6 L452.0,517.6 L452.0,519.4 L453.7,518.3 L455.8,519.6 L457.9,521.0 L459.6,520.4 L459.6,521.6 L461.4,520.4 L461.4,521.6 L463.1,521.0 L464.9,520.2 L464.9,521.8 L466.6,520.7 L468.3,520.0 L468.3,520.6 L470.0,520.0 L471.9,519.6 L471.9,521.0 L473.8,520.2 L473.8,520.8 L475.6,520.8 L477.5,520.8 L477.5,521.3 L479.4,520.8 L479.4,521.8 L481.2,521.6 L483.1,521.8 L485.0,521.8 L485.0,522.4 L486.8,522.1 L488.5,522.1 L490.3,522.1 L492.0,522.1 L493.8,521.6 L493.8,522.6 L495.6,522.1 L497.3,521.8 L497.3,522.4 L499.1,521.8 L499.1,522.4 L500.8,521.7 L500.8,522.5 L502.6,522.1 L504.3,521.6 L504.3,522.6 L506.1,521.7 L506.1,522.5 L507.9,521.6 L507.9,522.4 L509.7,522.0 L511.5,521.7 L511.5,522.1 L513.3,521.9 L515.1,521.8 L516.9,521.7 L518.7,521.7 L520.5,521.3 L520.5,522.0 L522.3,521.4 L522.3,521.7 L524.1,521.2 L524.1,521.8 L525.8,521.8 L527.6,522.1 L529.3,522.2 L529.3,522.6 L531.0,522.7 L532.7,522.7 L532.7,523.3 L534.5,523.1 L534.5,523.5 L536.2,523.4 L536.2,523.8 L538.0,523.7 L539.9,523.5 L539.9,524.0 L541.7,523.5 L541.7,524.1 L543.6,523.6 L543.6,524.2 L545.4,523.8 L545.4,524.1 L547.3,523.7 L547.3,524.3 L549.1,523.8 L549.1,524.3 L551.0,524.2 L552.8,524.2 L554.7,524.1 L554.7,524.5 L556.5,524.4 L558.4,524.1 L558.4,524.7 L560.2,524.5 L562.0,524.3 L562.0,524.7 L563.7,524.3 L563.7,524.7 L565.5,524.5 L567.3,524.3 L567.3,524.7 L569.1,524.3 L569.1,524.7 L570.8,524.2 L570.8,524.8 L572.6,524.5 L574.4,524.5 L576.1,524.5 L577.9,524.3 L577.9,524.7 L579.7,524.3 L579.7,524.7 L581.4,524.2 L581.4,524.8 L583.2,524.4 L583.2,524.6 L585.0,524.3 L585.0,524.7 L586.8,524.4 L586.8,524.6 L588.5,524.2 L588.5,524.8 L590.3,524.5 L592.1,524.3 L592.1,524.8 L593.8,524.5 L593.8,524.8 L595.6,524.7 L597.4,524.5 L597.4,525.1 L599.2,524.7 L599.2,525.0 L600.9,524.9 L602.7,524.9 L602.7,525.1 L604.5,525.1 L606.2,525.0 L606.2,525.3 L608.0,525.1 L608.0,525.3 L609.8,525.0 L609.8,525.6 L611.5,525.3 L613.3,525.4 L615.1,525.2 L615.1,525.8 L616.9,525.4 L616.9,525.7 L618.6,525.6 L620.4,525.7 L622.2,525.8 L623.9,525.8 L625.7,525.7 L625.7,526.0 L627.5,525.8 L627.5,526.0 L629.3,526.0 L631.0,526.0 L632.8,525.8 L632.8,526.3 L634.6,525.9 L634.6,526.3 L636.3,526.0 L636.3,526.4 L638.1,526.2 L639.9,526.3 L641.6,526.3 L643.4,526.4 L645.2,526.4 L647.0,526.5 L648.7,526.3 L648.7,526.8 L650.5,526.6 L652.3,526.5 L652.3,526.7 L654.1,526.4 L654.1,526.8 L656.0,526.5 L656.0,526.7 L657.8,526.3 L657.8,526.9 L659.6,526.3 L659.6,526.9 L661.4,526.5 L661.4,526.7 L663.2,526.4 L663.2,526.8 L665.1,526.3 L665.1,526.9 L666.9,526.5 L666.9,526.7 L668.7,526.3 L668.7,526.9 L670.5,526.6 L672.4,526.6 L674.2,526.5 L674.2,526.7 L676.0,526.6" stroke="#168216"/>
<path d="M407.0,541.7 L407.7,530.0 L407.7,436.7 L407.9,436.7 L408.2,495.0 L409.2,529.0 L409.8,529.2 L411.6,518.4 L413.4,516.0 L414.5,513.6 L416.3,512.4 L418.7,507.6 L418.7,510.2 L419.9,513.6 L421.1,518.4 L423.5,517.6 L423.5,519.2 L425.9,520.8 L428.3,518.8 L428.3,520.4 L429.9,519.9 L429.9,521.2 L431.4,521.5 L432.8,522.1 L432.8,523.9 L434.2,523.5 L434.2,525.5 L436.1,524.3 L437.9,522.5 L437.9,525.5 L439.8,522.4 L439.8,525.2 L441.2,524.1 L442.6,523.3 L442.6,525.7 L444.3,524.2 L446.0,522.9 L446.0,525.0 L447.6,522.6 L447.6,524.7 L449.3,522.3 L449.3,524.5 L451.0,522.5 L451.0,523.7 L452.7,522.2 L452.7,523.6 L454.4,522.0 L454.4,523.5 L456.2,521.9 L456.2,523.2 L457.9,521.5 L457.9,523.3 L459.6,521.7 L459.6,523.4 L461.4,522.4 L461.4,523.1 L463.1,522.9 L464.9,523.1 L466.8,522.6 L466.8,523.6 L468.6,522.4 L468.6,523.8 L470.5,523.1 L472.3,523.4 L474.1,523.6 L475.9,523.3 L475.9,524.4 L477.8,523.6 L477.8,524.6 L479.6,524.4 L481.4,524.1 L481.4,525.1 L483.2,524.9 L485.0,524.8 L485.0,525.4 L486.8,525.2 L488.5,524.8 L488.5,525.8 L490.3,525.4 L492.1,525.5 L493.9,525.5 L495.6,525.6 L497.4,525.5 L497.4,525.9 L499.2,525.4 L499.2,526.2 L500.9,525.7 L500.9,526.1 L502.7,525.7 L502.7,526.2 L504.5,525.8 L504.5,526.4 L506.2,525.7 L506.2,526.6 L508.0,526.2 L509.8,526.1 L509.8,526.5 L511.6,526.0 L511.6,526.8 L513.3,526.3 L513.3,526.7 L515.1,526.2 L515.1,527.0 L516.9,526.3 L516.9,527.0 L518.6,526.5 L518.6,527.0 L520.4,526.7 L520.4,527.1 L522.2,526.7 L522.2,527.2 L524.0,527.0 L525.7,527.1 L527.5,526.9 L527.5,527.6 L529.3,527.3 L531.0,527.1 L531.0,527.7 L532.8,527.3 L532.8,527.7 L534.6,527.6 L536.3,527.3 L536.3,528.0 L538.1,527.5 L538.1,528.0 L539.9,527.8 L541.7,527.9 L543.4,528.0 L545.2,528.1 L547.0,528.1 L548.7,527.8 L548.7,528.4 L550.5,528.1 L552.3,527.9 L552.3,528.3 L554.1,527.8 L554.1,528.4 L555.8,528.0 L555.8,528.2 L557.6,527.8 L557.6,528.4 L559.4,527.9 L559.4,528.3 L561.1,527.9 L561.1,528.3 L562.9,527.9 L562.9,528.3 L564.7,528.1 L566.4,527.9 L566.4,528.3 L568.2,528.0 L568.2,528.2 L570.0,527.8 L570.0,528.4 L571.8,527.9 L571.8,528.3 L573.5,527.9 L573.5,528.3 L575.3,527.9 L575.3,528.3 L577.2,528.1 L577.2,528.3 L579.0,528.1 L579.0,528.6 L580.9,528.4 L582.8,528.4 L582.8,528.7 L584.7,528.5 L584.7,528.8 L586.5,528.6 L586.5,528.9 L588.4,528.6 L588.4,529.2 L590.3,528.8 L590.3,529.2 L592.1,528.9 L593.8,528.9 L595.6,528.7 L595.6,529.0 L597.4,528.5 L597.4,529.0 L599.2,528.5 L599.2,528.9 L600.9,528.5 L600.9,528.8 L602.7,528.5 L602.7,528.8 L604.5,528.4 L604.5,528.7 L606.2,528.4 L606.2,528.6 L608.0,528.4 L608.0,528.6 L609.8,528.4 L611.5,528.1 L611.5,528.7 L613.3,528.3 L615.1,528.1 L615.1,528.4 L616.9,527.9 L616.9,528.5 L618.6,528.0 L618.6,528.3 L620.4,527.9 L620.4,528.3 L622.2,528.1 L623.9,527.9 L623.9,528.2 L625.7,528.0 L627.5,528.0 L629.3,527.8 L629.3,528.1 L631.0,527.8 L631.0,528.0 L632.8,527.6 L632.8,528.1 L634.6,527.8 L636.3,527.6 L636.3,527.9 L638.1,527.5 L638.1,528.0 L639.9,527.5 L639.9,527.9 L641.6,527.5 L641.6,527.9 L643.4,527.4 L643.4,527.8 L645.2,527.4 L645.2,527.8 L647.0,527.3 L647.0,527.8 L648.7,527.5 L650.5,527.3 L650.5,527.7 L652.3,527.5 L654.1,527.5 L656.0,527.4 L657.8,527.1 L657.8,527.7 L659.6,527.3 L659.6,527.5 L661.4,527.4 L663.2,527.1 L663.2,527.6 L665.1,527.0 L665.1,527.6 L666.9,527.1 L666.9,527.5 L668.7,527.2 L668.7,527.4 L670.5,527.3 L672.4,527.1 L672.4,527.4 L674.2,527.2 L676.0,527.0 L676.0,527.4" stroke="#4068e0"/>
<path d="M406.4,542.6 L407.2,520.0 L408.0,489.7 L409.0,470.0 L410.2,451.5 L410.6,470.0 L409.8,478.0 L410.8,492.0 L409.5,492.0 L411.6,494.5 L410.5,497.0 L412.2,499.3 L411.2,500.0 L413.4,498.1 L412.6,503.0 L414.0,504.1 L415.1,501.7 L414.6,506.0 L415.7,507.7 L416.9,506.5 L416.3,509.0 L417.5,504.1 L418.7,503.5 L419.9,507.7 L421.1,508.9 L423.5,508.9 L423.5,510.1 L425.9,508.0 L425.9,509.8 L428.0,507.6 L428.0,509.8 L430.1,508.5 L432.1,505.4 L432.1,508.1 L434.2,503.8 L434.2,506.2 L436.3,505.1 L436.3,507.7 L438.4,507.8 L440.3,505.5 L440.3,507.3 L442.1,503.9 L442.1,506.1 L444.0,503.6 L445.9,502.7 L447.7,500.6 L447.7,502.8 L449.6,500.8 L451.4,499.8 L451.4,500.9 L453.3,499.9 L455.1,498.8 L455.1,500.0 L457.2,499.4 L459.3,499.0 L459.3,499.8 L460.0,503.6 L461.6,503.6 L463.3,503.0 L463.3,504.2 L464.9,503.2 L464.9,504.0 L466.8,503.8 L468.6,503.5 L468.6,504.7 L470.5,503.8 L470.5,504.8 L471.9,505.1 L471.9,506.3 L473.3,507.1 L475.2,507.6 L477.1,507.5 L477.1,508.7 L479.0,508.2 L479.0,509.0 L480.8,508.1 L480.8,509.1 L482.6,508.1 L482.6,509.1 L484.4,508.6 L486.2,508.6 L488.0,508.3 L488.0,508.9 L490.0,509.4 L492.0,509.9 L492.0,510.5 L494.0,510.5 L494.0,511.5 L495.7,511.1 L495.7,511.5 L497.5,511.6 L499.2,511.9 L500.9,511.8 L500.9,512.6 L502.6,512.0 L502.6,513.0 L504.4,512.8 L506.1,513.1 L508.0,513.2 L509.8,513.0 L509.8,513.4 L511.7,513.1 L511.7,513.5 L513.5,513.2 L513.5,513.6 L515.4,513.1 L515.4,513.8 L517.2,513.5 L519.1,513.2 L519.1,513.9 L520.9,513.3 L520.9,514.0 L522.8,513.7 L524.6,513.6 L524.6,514.0 L526.5,513.7 L526.5,514.0 L528.3,513.6 L528.3,514.3 L530.2,513.7 L530.2,514.3 L532.0,514.1 L533.9,513.9 L533.9,514.5 L535.7,514.3 L537.6,514.4 L539.4,514.5 L541.3,514.3 L541.3,514.9 L543.1,514.6 L545.0,514.7 L546.8,514.8 L548.7,514.7 L548.7,515.2 L550.5,515.0 L552.4,515.1 L554.2,515.1 L554.2,515.3 L556.2,515.7 L558.2,516.0 L558.2,516.4 L560.2,516.6 L560.2,516.8 L562.0,516.7 L562.0,516.9 L563.8,516.9 L565.6,517.0 L567.4,516.9 L567.4,517.2 L569.2,516.9 L569.2,517.4 L571.1,517.0 L571.1,517.4 L572.9,517.1 L572.9,517.5 L574.7,517.4 L576.5,517.5 L578.3,517.4 L578.3,517.8 L580.1,517.6 L580.1,518.0 L581.9,518.0 L583.7,518.2 L585.5,518.4 L587.3,518.7 L589.1,518.9 L590.9,518.8 L590.9,519.3 L592.7,519.1 L592.7,519.5 L594.5,519.2 L594.5,519.7 L596.3,519.7 L598.0,520.0 L599.7,520.0 L599.7,520.5 L601.4,520.5 L603.2,520.5 L603.2,520.9 L604.9,521.0 L606.6,521.0 L606.6,521.5 L608.3,521.2 L608.3,521.8 L610.1,521.6 L611.9,521.7 L611.9,521.9 L613.7,522.0 L615.5,521.9 L615.5,522.3 L617.3,522.2 L619.2,522.2 L619.2,522.6 L621.0,522.5 L622.8,522.5 L622.8,522.9 L624.6,522.9 L626.4,522.9 L626.4,523.1 L628.1,523.2 L629.8,523.2 L629.8,523.5 L631.5,523.3 L631.5,523.7 L633.3,523.7 L635.0,523.9 L636.7,523.8 L636.7,524.2 L638.4,524.2 L640.2,524.2 L640.2,524.4 L642.0,524.1 L642.0,524.7 L643.8,524.2 L643.8,524.8 L645.6,524.6 L647.5,524.7 L649.3,524.7 L651.1,524.5 L651.1,525.1 L652.9,524.6 L652.9,525.2 L654.7,524.7 L654.7,525.3 L656.5,524.9 L656.5,525.3 L658.3,525.0 L658.3,525.3 L660.0,525.0 L660.0,525.4 L661.8,525.3 L663.6,525.1 L663.6,525.5 L665.4,525.4 L667.1,525.4 L668.9,525.4 L668.9,525.6 L670.7,525.3 L670.7,525.7 L672.5,525.4 L672.5,525.8 L674.2,525.6 L676.0,525.7" stroke="#ff1717"/>
</g>
<rect x="388.5" y="332.1" width="286.9" height="213.80000000000007" fill="none" stroke="#464646" stroke-width="1.1"/>
<line x1="406.43" y1="545.9000000000001" x2="406.43" y2="548.9000000000001" stroke="#1e1e1e" stroke-width="1.15"/>
<text class="tk" x="406.43" y="558.4000000000001" font-size="8.5" letter-spacing="0.3" text-anchor="middle">0.00</text>
<line x1="451.26" y1="545.9000000000001" x2="451.26" y2="548.9000000000001" stroke="#1e1e1e" stroke-width="1.15"/>
<text class="tk" x="451.26" y="558.4000000000001" font-size="8.5" letter-spacing="0.3" text-anchor="middle">0.05</text>
<line x1="496.09" y1="545.9000000000001" x2="496.09" y2="548.9000000000001" stroke="#1e1e1e" stroke-width="1.15"/>
<text class="tk" x="496.09" y="558.4000000000001" font-size="8.5" letter-spacing="0.3" text-anchor="middle">0.10</text>
<line x1="540.92" y1="545.9000000000001" x2="540.92" y2="548.9000000000001" stroke="#1e1e1e" stroke-width="1.15"/>
<text class="tk" x="540.92" y="558.4000000000001" font-size="8.5" letter-spacing="0.3" text-anchor="middle">0.15</text>
<line x1="585.74" y1="545.9000000000001" x2="585.74" y2="548.9000000000001" stroke="#1e1e1e" stroke-width="1.15"/>
<text class="tk" x="585.74" y="558.4000000000001" font-size="8.5" letter-spacing="0.3" text-anchor="middle">0.20</text>
<line x1="630.57" y1="545.9000000000001" x2="630.57" y2="548.9000000000001" stroke="#1e1e1e" stroke-width="1.15"/>
<text class="tk" x="630.57" y="558.4000000000001" font-size="8.5" letter-spacing="0.3" text-anchor="middle">0.25</text>
<line x1="675.40" y1="545.9000000000001" x2="675.40" y2="548.9000000000001" stroke="#1e1e1e" stroke-width="1.15"/>
<text class="tk" x="675.40" y="558.4000000000001" font-size="8.5" letter-spacing="0.3" text-anchor="middle">0.30</text>
<line x1="385.5" y1="541.71" x2="388.5" y2="541.71" stroke="#1e1e1e" stroke-width="1.15"/>
<text class="tk" x="382.6" y="545.41" font-size="8.5" letter-spacing="0.3" text-anchor="end">0.0</text>
<line x1="385.5" y1="499.79" x2="388.5" y2="499.79" stroke="#1e1e1e" stroke-width="1.15"/>
<text class="tk" x="382.6" y="503.49" font-size="8.5" letter-spacing="0.3" text-anchor="end">0.2</text>
<line x1="385.5" y1="457.86" x2="388.5" y2="457.86" stroke="#1e1e1e" stroke-width="1.15"/>
<text class="tk" x="382.6" y="461.56" font-size="8.5" letter-spacing="0.3" text-anchor="end">0.4</text>
<line x1="385.5" y1="415.94" x2="388.5" y2="415.94" stroke="#1e1e1e" stroke-width="1.15"/>
<text class="tk" x="382.6" y="419.64" font-size="8.5" letter-spacing="0.3" text-anchor="end">0.6</text>
<line x1="385.5" y1="374.02" x2="388.5" y2="374.02" stroke="#1e1e1e" stroke-width="1.15"/>
<text class="tk" x="382.6" y="377.72" font-size="8.5" letter-spacing="0.3" text-anchor="end">0.8</text>
<line x1="385.5" y1="332.10" x2="388.5" y2="332.10" stroke="#1e1e1e" stroke-width="1.15"/>
<text class="tk" x="382.6" y="335.80" font-size="8.5" letter-spacing="0.3" text-anchor="end">1.0</text>
<text class="lb" x="532.0" y="327.4" font-size="14.4" text-anchor="middle">PR Curve</text>
<text class="lb" x="532.0" y="572.3" font-size="13.9" text-anchor="middle">Recall</text>
<text class="lb" transform="translate(365.5,439.8) rotate(-90)" font-size="13.7" text-anchor="middle">Precision</text>
<rect x="521.7" y="336.0" width="150.1" height="49.6" rx="2" fill="#fff" fill-opacity="0.85" stroke="#d0d0d0" stroke-width="0.9"/>
<line x1="524.2" y1="342.8" x2="541.8" y2="342.8" stroke="#ffa208" stroke-width="1.6"/>
<text class="lg" x="547.5" y="345.4" font-size="8.5" letter-spacing="0.22">Ridge (AUPR = 0.074)</text>
<line x1="524.2" y1="354.7" x2="541.8" y2="354.7" stroke="#168216" stroke-width="1.6"/>
<text class="lg" x="547.5" y="357.3" font-size="8.5" letter-spacing="0.22">Linear (AUPR = 0.076)</text>
<line x1="524.2" y1="366.5" x2="541.8" y2="366.5" stroke="#4068e0" stroke-width="1.6"/>
<text class="lg" x="547.5" y="369.1" font-size="8.5" letter-spacing="0.22">GRNBoost2 (AUPR = 0.067)</text>
<line x1="524.2" y1="378.4" x2="541.8" y2="378.4" stroke="#ff1717" stroke-width="1.6"/>
<text class="lg" x="547.5" y="381.0" font-size="8.5" letter-spacing="0.22">ModularBoost (AUPR = 0.088)</text>
<text x="175.35" y="606.2" style='font-family:"Liberation Serif", serif;fill:#000;stroke:#000;stroke-width:0.15px' font-size="16.5" text-anchor="middle">SCODE MEF</text>
<text x="527.0" y="604.7" style='font-family:"Liberation Serif", serif;fill:#000;stroke:#000;stroke-width:0.15px' font-size="16.5" text-anchor="middle">SCODE MEF</text>
<clipPath id="c2ROC"><rect x="36.5" y="648.6" width="286.9" height="213.80000000000007"/></clipPath>
<g clip-path="url(#c2ROC)" fill="none" stroke-width="2" stroke-linejoin="round" stroke-linecap="round">
<path d="M41.7,858.5 L41.7,857.5 L42.8,857.5 L42.8,853.7 L43.9,853.7 L43.9,852.7 L44.8,852.7 L44.8,851.7 L46.5,851.7 L46.5,849.7 L47.4,849.7 L49.6,849.7 L49.6,847.6 L51.8,847.6 L51.8,845.6 L52.9,845.6 L52.9,844.7 L55.0,844.7 L55.0,842.7 L56.1,842.7 L56.1,841.8 L57.2,841.8 L57.2,841.0 L60.5,841.0 L60.5,840.1 L60.5,839.2 L61.6,839.2 L61.6,838.4 L62.7,838.4 L62.7,837.5 L64.9,837.5 L64.9,836.6 L65.8,836.6 L65.8,835.8 L67.5,835.8 L67.5,834.9 L68.4,834.9 L68.4,834.0 L68.4,833.1 L69.3,833.1 L69.3,832.3 L71.0,832.3 L71.0,831.4 L71.9,831.4 L71.9,830.4 L74.5,830.4 L74.5,828.4 L75.4,828.4 L75.4,827.4 L77.1,827.4 L77.1,825.2 L78.0,825.2 L81.3,825.2 L81.3,825.2 L82.4,825.2 L83.5,825.2 L83.5,824.3 L84.6,824.3 L84.6,823.4 L85.7,823.4 L85.7,821.7 L86.8,821.7 L88.5,821.7 L88.5,819.5 L90.3,819.5 L91.2,819.5 L91.2,820.0 L92.9,820.0 L92.9,819.0 L95.1,819.0 L95.1,818.1 L97.3,818.1 L97.3,817.1 L100.1,817.1 L100.1,814.9 L103.9,814.9 L103.9,813.0 L106.1,813.0 L106.1,812.0 L107.1,812.0 L107.1,809.2 L108.2,809.2 L108.2,808.2 L110.4,808.2 L110.4,807.3 L112.3,807.3 L112.3,806.2 L113.2,806.2 L113.2,804.0 L114.2,804.0 L114.2,802.9 L117.0,802.9 L118.1,802.9 L118.1,801.8 L119.2,801.8 L119.2,799.6 L121.4,799.6 L121.4,798.5 L122.3,798.5 L122.3,797.4 L125.2,797.4 L125.2,795.2 L127.1,795.2 L127.1,794.1 L128.0,794.1 L128.0,793.2 L130.9,793.2 L130.9,790.3 L132.8,790.3 L132.8,789.4 L134.8,789.4 L134.8,787.5 L136.7,787.5 L136.7,786.4 L139.6,786.4 L139.6,784.3 L143.5,784.3 L143.5,783.2 L145.5,783.2 L145.5,782.1 L147.4,782.1 L147.4,781.0 L152.3,781.0 L152.3,778.8 L154.2,778.8 L155.2,778.8 L155.2,777.7 L158.1,777.7 L158.1,775.5 L162.0,775.5 L162.0,774.4 L163.0,774.4 L164.9,774.4 L164.9,771.7 L165.8,771.7 L165.8,770.7 L166.8,770.7 L166.8,769.8 L167.7,769.8 L167.7,768.9 L169.6,768.9 L169.6,766.7 L170.7,766.7 L170.7,765.7 L172.9,765.7 L172.9,764.6 L174.0,764.6 L174.0,763.5 L177.3,763.5 L177.3,762.4 L179.4,762.4 L179.4,761.3 L180.5,761.3 L185.6,761.3 L185.6,760.6 L186.6,760.6 L186.6,759.7 L188.8,759.7 L188.8,756.8 L189.8,756.8 L189.8,754.9 L192.0,754.9 L192.0,754.0 L192.0,752.1 L193.1,752.1 L193.1,750.2 L194.2,750.2 L194.2,747.4 L195.3,747.4 L197.2,747.4 L197.2,746.3 L199.1,746.3 L199.1,745.2 L200.0,745.2 L200.0,744.2 L201.0,744.2 L201.0,743.1 L201.9,743.1 L203.9,743.1 L203.9,742.2 L204.8,742.2 L204.8,741.2 L205.8,741.2 L205.8,739.3 L207.8,739.3 L207.8,737.4 L209.7,737.4 L209.7,736.5 L210.7,736.5 L210.7,735.5 L211.7,735.5 L211.7,733.6 L213.6,733.6 L213.6,732.6 L214.6,732.6 L214.6,730.6 L218.4,730.6 L218.4,727.7 L219.4,727.7 L220.3,727.7 L220.3,725.8 L221.3,725.8 L221.3,724.8 L223.2,724.8 L223.2,723.9 L224.1,723.9 L224.1,722.9 L225.1,722.9 L225.1,722.0 L226.0,722.0 L226.0,720.1 L227.9,720.1 L227.9,718.2 L228.9,718.2 L228.9,717.2 L229.9,717.2 L229.9,715.3 L232.8,715.3 L232.8,714.3 L233.7,714.3 L233.7,713.4 L234.7,713.4 L234.7,712.4 L234.7,711.3 L238.6,711.3 L238.6,710.2 L241.5,710.2 L241.5,709.1 L242.5,709.1 L242.5,708.0 L243.5,708.0 L244.5,708.0 L244.5,705.8 L248.4,705.8 L248.4,704.7 L249.4,704.7 L249.4,702.6 L251.3,702.6 L251.3,701.5 L252.3,701.5 L252.3,700.6 L253.4,700.6 L253.4,698.8 L255.5,698.8 L255.5,696.9 L256.6,696.9 L256.6,696.0 L257.6,696.0 L257.6,694.9 L261.6,694.9 L261.6,693.8 L262.6,693.8 L262.6,692.7 L264.6,692.7 L264.6,691.6 L267.6,691.6 L269.5,691.6 L269.5,689.6 L270.5,689.6 L270.5,686.7 L271.5,686.7 L271.5,685.7 L275.3,685.7 L275.3,683.8 L276.3,683.8 L276.3,682.8 L278.2,682.8 L278.2,681.7 L281.0,681.7 L281.0,680.7 L282.9,680.7 L282.9,679.6 L283.9,679.6 L283.9,678.7 L284.9,678.7 L284.9,677.8 L287.8,677.8 L287.8,676.9 L288.8,676.9 L288.8,675.9 L290.7,675.9 L290.7,675.0 L291.7,675.0 L291.7,674.1 L292.7,674.1 L292.7,672.2 L294.6,672.2 L294.6,670.3 L295.6,670.3 L295.6,669.3 L298.5,669.3 L298.5,667.4 L300.4,667.4 L300.4,666.4 L302.3,666.4 L302.3,664.2 L304.2,664.2 L304.2,663.1 L307.0,663.1 L308.9,663.1 L308.9,660.9 L309.8,660.9 L309.8,659.9 L310.8,659.9 L310.8,658.8 L313.6,658.8 L313.6,657.7 L314.7,657.7 L314.7,656.7 L315.8,656.7 L315.8,655.7 L316.8,655.7 L316.8,653.7 L317.9,653.7" stroke="#ffa208"/>
<path d="M41.7,857.6 L41.7,856.6 L43.7,856.6 L43.7,852.8 L45.6,852.8 L45.6,851.9 L45.6,851.0 L48.9,851.0 L48.9,850.2 L50.0,850.2 L50.9,850.2 L50.9,848.8 L53.5,848.8 L53.5,848.0 L58.8,848.0 L58.8,847.1 L59.7,847.1 L59.7,845.8 L62.3,845.8 L62.3,843.8 L63.2,843.8 L63.2,842.8 L64.9,842.8 L64.9,841.8 L65.8,841.8 L67.5,841.8 L67.5,839.7 L69.3,839.7 L71.0,839.7 L71.0,838.8 L71.9,838.8 L71.9,837.9 L72.8,837.9 L72.8,835.7 L73.7,835.7 L73.7,834.6 L74.5,834.6 L74.5,833.5 L75.4,833.5 L75.4,832.6 L76.3,832.6 L76.3,831.8 L78.0,831.8 L78.0,830.0 L78.9,830.0 L78.9,828.3 L80.6,828.3 L80.6,827.4 L81.5,827.4 L83.2,827.4 L83.2,826.3 L84.1,826.3 L84.1,824.1 L85.0,824.1 L85.0,823.0 L85.0,820.8 L85.9,820.8 L85.9,819.7 L88.5,819.7 L88.5,818.6 L89.4,818.6 L89.4,817.7 L91.1,817.7 L91.1,815.1 L92.0,815.1 L92.0,814.2 L93.1,814.2 L93.1,813.3 L94.1,813.3 L94.1,812.4 L95.2,812.4 L95.2,810.5 L97.3,810.5 L97.3,809.6 L98.4,809.6 L98.4,806.4 L99.5,806.4 L99.5,805.3 L100.6,805.3 L100.6,804.2 L101.7,804.2 L101.7,803.1 L108.3,803.1 L110.5,803.1 L110.5,802.0 L112.6,802.0 L112.6,800.9 L113.7,800.9 L113.7,799.8 L114.8,799.8 L115.8,799.8 L115.8,797.9 L118.7,797.9 L118.7,797.0 L119.7,797.0 L119.7,796.0 L121.6,796.0 L121.6,794.1 L122.6,794.1 L122.6,793.2 L123.6,793.2 L125.5,793.2 L125.5,790.5 L127.4,790.5 L127.4,789.5 L129.3,789.5 L129.3,788.6 L130.2,788.6 L130.2,787.7 L130.2,786.6 L133.5,786.6 L133.5,784.5 L135.6,784.5 L135.6,783.4 L136.7,783.4 L136.7,782.3 L139.5,782.3 L139.5,781.2 L140.5,781.2 L140.5,780.1 L143.3,780.1 L145.2,780.1 L145.2,779.0 L147.2,779.0 L147.2,777.9 L149.1,777.9 L149.1,776.8 L150.1,776.8 L150.1,775.7 L152.0,775.7 L152.0,774.7 L154.0,774.7 L154.0,772.8 L156.9,772.8 L156.9,770.9 L158.8,770.9 L158.8,769.9 L159.8,769.9 L159.8,769.0 L160.8,769.0 L160.8,768.0 L161.8,768.0 L161.8,767.0 L162.8,767.0 L162.8,766.1 L163.7,766.1 L163.7,764.1 L166.7,764.1 L166.7,762.2 L167.6,762.2 L167.6,761.2 L168.6,761.2 L168.6,759.3 L169.6,759.3 L170.7,759.3 L170.7,757.1 L176.1,757.1 L178.0,757.1 L178.0,756.2 L179.0,756.2 L179.0,755.3 L180.0,755.3 L180.0,754.4 L181.9,754.4 L181.9,753.5 L183.8,753.5 L183.8,751.6 L184.7,751.6 L184.7,750.7 L185.7,750.7 L185.7,749.8 L186.6,749.8 L188.8,749.8 L188.8,747.6 L193.1,747.6 L195.1,747.6 L195.1,746.5 L197.0,746.5 L197.0,745.4 L198.0,745.4 L198.0,744.4 L199.9,744.4 L199.9,743.3 L201.9,743.3 L201.9,742.2 L203.9,742.2 L203.9,740.3 L204.8,740.3 L204.8,738.4 L207.8,738.4 L207.8,737.4 L208.7,737.4 L208.7,736.4 L209.7,736.4 L209.7,735.5 L210.7,735.5 L210.7,734.5 L210.7,733.6 L213.6,733.6 L213.6,731.8 L216.5,731.8 L216.5,730.8 L218.4,730.8 L218.4,729.9 L219.4,729.9 L219.4,729.0 L219.4,727.1 L220.3,727.1 L220.3,726.2 L222.2,726.2 L222.2,724.3 L224.1,724.3 L224.1,722.4 L226.0,722.4 L226.0,721.4 L227.0,721.4 L227.0,720.5 L229.9,720.5 L229.9,718.5 L231.8,718.5 L231.8,717.6 L232.8,717.6 L232.8,716.6 L233.7,716.6 L233.7,713.7 L234.7,713.7 L236.7,713.7 L236.7,712.8 L237.6,712.8 L237.6,711.9 L239.6,711.9 L239.6,709.1 L241.5,709.1 L241.5,708.2 L243.5,708.2 L243.5,707.2 L246.4,707.2 L246.4,706.3 L247.4,706.3 L247.4,705.3 L248.4,705.3 L248.4,704.4 L249.4,704.4 L249.4,702.5 L250.3,702.5 L250.3,701.5 L252.3,701.5 L252.3,700.6 L252.3,699.7 L253.4,699.7 L253.4,697.8 L256.6,697.8 L256.6,694.9 L258.8,694.9 L258.8,694.0 L258.8,693.1 L261.7,693.1 L261.7,692.2 L262.7,692.2 L262.7,690.3 L263.7,690.3 L263.7,689.4 L266.6,689.4 L266.6,688.5 L267.6,688.5 L269.5,688.5 L269.5,687.6 L270.4,687.6 L270.4,683.8 L273.3,683.8 L273.3,682.8 L274.2,682.8 L274.2,681.9 L275.2,681.9 L275.2,679.7 L279.0,679.7 L279.0,678.6 L280.0,678.6 L280.0,677.6 L281.9,677.6 L281.9,676.5 L282.9,676.5 L282.9,675.4 L282.9,674.5 L285.7,674.5 L285.7,672.6 L286.7,672.6 L286.7,671.6 L287.6,671.6 L287.6,668.8 L289.5,668.8 L290.6,668.8 L290.6,667.7 L291.7,667.7 L291.7,666.6 L292.7,666.6 L292.7,665.5 L293.8,665.5 L293.8,664.4 L296.0,664.4 L297.1,664.4 L297.1,664.4 L300.4,664.4 L301.3,664.4 L301.3,663.5 L302.3,663.5 L302.3,662.6 L304.2,662.6 L304.2,660.7 L305.1,660.7 L305.1,659.8 L307.0,659.8 L307.0,658.9 L307.0,657.9 L309.8,657.9 L309.8,656.0 L311.7,656.0 L311.7,655.1 L313.6,655.1 L313.6,654.1 L315.8,654.1 L315.8,652.8 L317.9,652.8" stroke="#168216"/>
<path d="M41.7,857.6 L41.7,855.7 L43.8,855.7 L43.8,852.8 L44.8,852.8 L47.0,852.8 L47.0,851.9 L48.0,851.9 L48.0,851.0 L49.1,851.0 L49.1,850.1 L50.2,850.1 L50.2,849.3 L53.5,849.3 L53.5,848.4 L55.7,848.4 L55.7,847.5 L56.8,847.5 L56.8,845.8 L57.9,845.8 L57.9,844.9 L59.0,844.9 L59.0,842.9 L60.1,842.9 L60.1,842.0 L61.2,842.0 L61.2,841.0 L62.3,841.0 L63.4,841.0 L63.4,840.1 L64.5,840.1 L64.5,839.2 L65.5,839.2 L65.5,837.5 L66.6,837.5 L66.6,836.5 L68.8,836.5 L68.8,835.5 L69.9,835.5 L69.9,833.5 L71.0,833.5 L71.0,831.8 L73.2,831.8 L73.2,830.9 L75.4,830.9 L75.4,830.0 L75.4,829.1 L76.5,829.1 L76.5,828.3 L79.8,828.3 L79.8,827.4 L79.8,826.5 L80.9,826.5 L80.9,825.7 L82.0,825.7 L82.0,824.8 L84.2,824.8 L85.3,824.8 L85.3,821.6 L87.4,821.6 L87.4,819.5 L88.5,819.5 L89.6,819.5 L89.6,818.5 L91.8,818.5 L91.8,816.4 L92.9,816.4 L93.9,816.4 L93.9,814.3 L96.0,814.3 L96.0,813.3 L98.0,813.3 L98.0,812.3 L99.0,812.3 L99.0,811.3 L100.9,811.3 L100.9,810.4 L101.9,810.4 L101.9,808.4 L103.9,808.4 L103.9,806.4 L105.8,806.4 L105.8,805.3 L107.8,805.3 L107.8,804.2 L109.7,804.2 L109.7,803.1 L110.7,803.1 L110.7,802.0 L112.6,802.0 L112.6,801.1 L114.6,801.1 L114.6,800.1 L116.5,800.1 L116.5,798.2 L119.4,798.2 L119.4,796.3 L120.4,796.3 L120.4,795.4 L121.4,795.4 L122.4,795.4 L122.4,794.4 L124.4,794.4 L124.4,792.5 L125.4,792.5 L125.4,790.5 L126.4,790.5 L126.4,789.5 L129.3,789.5 L129.3,787.6 L130.3,787.6 L130.3,786.6 L132.3,786.6 L132.3,785.6 L135.2,785.6 L135.2,784.7 L136.2,784.7 L136.2,782.8 L138.2,782.8 L138.2,779.9 L139.1,779.9 L139.1,779.0 L141.1,779.0 L143.1,779.0 L143.1,778.1 L144.1,778.1 L144.1,777.1 L146.1,777.1 L146.1,774.3 L151.0,774.3 L151.0,773.3 L152.0,773.3 L152.0,772.4 L153.0,772.4 L153.0,771.4 L154.0,771.4 L154.0,770.5 L155.9,770.5 L155.9,768.6 L157.9,768.6 L157.9,766.7 L159.8,766.7 L159.8,765.7 L160.8,765.7 L160.8,764.8 L162.8,764.8 L162.8,762.0 L163.7,762.0 L163.7,761.0 L165.7,761.0 L165.7,760.1 L166.7,760.1 L166.7,759.1 L169.6,759.1 L169.6,758.2 L169.6,756.3 L172.9,756.3 L172.9,753.5 L175.0,753.5 L175.0,751.6 L176.1,751.6 L179.0,751.6 L179.0,750.9 L180.0,750.9 L180.0,749.8 L182.0,749.8 L182.0,748.7 L186.8,748.7 L186.8,747.6 L187.8,747.6 L187.8,746.5 L188.8,746.5 L189.9,746.5 L189.9,745.4 L191.0,745.4 L191.0,744.3 L193.1,744.3 L193.1,743.3 L194.2,743.3 L194.2,742.2 L195.3,742.2 L195.3,741.1 L195.3,740.2 L196.2,740.2 L196.2,739.3 L197.2,739.3 L197.2,738.4 L198.1,738.4 L198.1,737.4 L201.0,737.4 L201.0,735.6 L201.9,735.6 L203.8,735.6 L203.8,733.4 L204.7,733.4 L204.7,732.3 L205.7,732.3 L205.7,731.2 L208.5,731.2 L212.8,731.2 L212.8,730.1 L215.0,730.1 L217.0,730.1 L217.0,729.0 L218.9,729.0 L218.9,727.9 L221.8,727.9 L221.8,726.8 L223.8,726.8 L223.8,725.7 L225.8,725.7 L225.8,723.8 L227.7,723.8 L227.7,721.9 L229.7,721.9 L229.7,719.0 L230.6,719.0 L230.6,718.1 L232.6,718.1 L234.6,718.1 L234.6,717.2 L235.6,717.2 L235.6,716.2 L237.6,716.2 L237.6,714.3 L239.5,714.3 L239.5,712.4 L242.5,712.4 L242.5,711.5 L243.5,711.5 L243.5,710.6 L245.5,710.6 L245.5,708.7 L247.4,708.7 L247.4,706.8 L249.4,706.8 L249.4,705.8 L250.3,705.8 L250.3,704.9 L252.3,704.9 L252.3,703.0 L253.4,703.0 L253.4,701.0 L254.4,701.0 L254.4,698.1 L255.5,698.1 L255.5,696.2 L256.6,696.2 L258.6,696.2 L258.6,694.0 L264.6,694.0 L264.6,692.9 L266.6,692.9 L266.6,691.8 L267.6,691.8 L269.6,691.8 L269.6,689.9 L272.6,689.9 L272.6,688.0 L274.5,688.0 L274.5,687.1 L276.5,687.1 L276.5,686.1 L278.5,686.1 L278.5,685.2 L278.5,684.2 L279.5,684.2 L279.5,683.3 L283.6,683.3 L283.6,682.3 L285.6,682.3 L285.6,681.4 L286.6,681.4 L286.6,679.5 L290.7,679.5 L290.7,678.5 L291.7,678.5 L291.7,677.6 L292.8,677.6 L292.8,675.7 L293.9,675.7 L293.9,674.8 L294.9,674.8 L294.9,672.9 L297.1,672.9 L297.1,671.0 L298.2,671.0 L299.2,671.0 L299.2,670.1 L301.1,670.1 L301.1,669.2 L302.1,669.2 L302.1,667.3 L304.1,667.3 L304.1,666.4 L306.0,666.4 L306.0,665.5 L307.0,665.5 L308.1,665.5 L308.1,664.6 L309.2,664.6 L309.2,660.8 L310.3,660.8 L310.3,658.9 L311.4,658.9 L312.5,658.9 L312.5,657.9 L313.6,657.9 L313.6,655.9 L315.7,655.9 L315.7,653.8 L317.9,653.8 L317.9,652.8" stroke="#4068e0"/>
<path d="M41.7,857.6 L41.7,855.7 L42.8,855.7 L42.8,852.8 L43.9,852.8 L44.8,852.8 L44.8,850.8 L47.4,850.8 L47.4,848.8 L49.6,848.8 L49.6,847.8 L50.7,847.8 L50.7,846.7 L51.8,846.7 L51.8,845.7 L52.9,845.7 L52.9,843.8 L56.1,843.8 L56.1,841.8 L56.1,840.9 L57.2,840.9 L57.2,840.1 L58.3,840.1 L58.3,839.2 L60.5,839.2 L60.5,838.3 L61.6,838.3 L61.6,837.5 L63.8,837.5 L63.8,836.6 L64.9,836.6 L64.9,834.9 L67.5,834.9 L67.5,834.0 L68.4,834.0 L68.4,833.1 L68.4,831.4 L71.0,831.4 L71.0,830.5 L71.9,830.5 L72.8,830.5 L72.8,829.5 L73.7,829.5 L73.7,827.5 L75.4,827.5 L75.4,826.5 L75.4,825.4 L78.0,825.4 L78.0,824.3 L80.2,824.3 L80.2,824.3 L82.4,824.3 L84.6,824.3 L84.6,821.7 L86.8,821.7 L86.8,820.8 L86.8,819.7 L89.4,819.7 L89.4,818.6 L90.3,818.6 L92.9,818.6 L92.9,819.1 L94.0,819.1 L94.0,818.1 L96.2,818.1 L96.2,817.2 L97.3,817.2 L97.3,816.2 L100.1,816.2 L100.1,815.1 L103.0,815.1 L103.0,814.0 L103.9,814.0 L103.9,812.1 L105.0,812.1 L105.0,811.1 L107.1,811.1 L107.1,809.2 L108.2,809.2 L108.2,808.3 L110.4,808.3 L110.4,806.4 L112.3,806.4 L112.3,805.3 L114.2,805.3 L114.2,804.2 L115.1,804.2 L115.1,803.1 L117.0,803.1 L117.0,802.0 L117.0,800.9 L119.2,800.9 L119.2,799.8 L120.3,799.8 L120.3,797.6 L121.4,797.6 L121.4,796.5 L124.2,796.5 L124.2,795.4 L126.1,795.4 L126.1,794.3 L128.0,794.3 L128.0,793.2 L128.0,792.3 L129.0,792.3 L129.0,791.3 L129.9,791.3 L129.9,790.4 L132.8,790.4 L132.8,788.5 L133.8,788.5 L133.8,787.5 L135.7,787.5 L135.7,786.6 L136.7,786.6 L138.7,786.6 L138.7,785.5 L139.6,785.5 L139.6,784.4 L143.5,784.4 L143.5,783.4 L145.5,783.4 L145.5,782.3 L147.4,782.3 L147.4,780.1 L151.3,780.1 L151.3,779.0 L153.2,779.0 L153.2,777.9 L154.2,777.9 L154.2,776.8 L156.2,776.8 L156.2,775.7 L159.1,775.7 L159.1,774.6 L161.0,774.6 L161.0,773.5 L163.0,773.5 L164.9,773.5 L164.9,772.6 L165.8,772.6 L165.8,769.8 L166.8,769.8 L166.8,768.9 L169.6,768.9 L169.6,768.0 L170.7,768.0 L170.7,764.8 L171.8,764.8 L171.8,763.7 L174.0,763.7 L174.0,762.6 L175.1,762.6 L175.1,761.5 L178.3,761.5 L178.3,760.4 L180.5,760.4 L180.5,759.7 L186.6,759.7 L187.7,759.7 L187.7,756.9 L188.8,756.9 L188.8,755.9 L190.9,755.9 L190.9,755.0 L192.0,755.0 L192.0,753.1 L192.0,751.2 L194.2,751.2 L194.2,748.4 L195.3,748.4 L195.3,746.5 L195.3,745.4 L199.1,745.4 L199.1,744.3 L200.0,744.3 L200.0,742.2 L201.9,742.2 L201.9,741.3 L204.8,741.3 L204.8,739.4 L205.8,739.4 L205.8,737.5 L209.7,737.5 L209.7,736.5 L210.7,736.5 L210.7,735.6 L210.7,733.6 L211.7,733.6 L211.7,732.7 L214.6,732.7 L214.6,731.7 L215.5,731.7 L215.5,730.7 L216.5,730.7 L216.5,729.7 L217.5,729.7 L217.5,726.8 L219.4,726.8 L220.3,726.8 L220.3,725.8 L221.3,725.8 L221.3,723.0 L223.2,723.0 L223.2,722.0 L224.1,722.0 L224.1,720.1 L226.0,720.1 L226.0,719.2 L227.9,719.2 L227.9,718.2 L228.9,718.2 L228.9,715.4 L230.8,715.4 L230.8,714.4 L232.8,714.4 L232.8,713.4 L233.7,713.4 L233.7,711.5 L234.7,711.5 L235.7,711.5 L235.7,710.4 L237.6,710.4 L237.6,708.2 L240.6,708.2 L240.6,707.1 L243.5,707.1 L243.5,706.0 L246.4,706.0 L246.4,704.9 L247.4,704.9 L247.4,703.8 L249.4,703.8 L249.4,701.7 L251.3,701.7 L251.3,700.6 L252.3,700.6 L252.3,699.7 L253.4,699.7 L253.4,697.9 L254.4,697.9 L254.4,696.9 L255.5,696.9 L255.5,695.1 L256.6,695.1 L258.6,695.1 L258.6,694.0 L261.6,694.0 L261.6,692.9 L264.6,692.9 L264.6,690.7 L267.6,690.7 L267.6,688.7 L268.6,688.7 L268.6,687.8 L270.5,687.8 L270.5,686.8 L271.5,686.8 L271.5,684.8 L274.4,684.8 L274.4,683.9 L275.3,683.9 L275.3,682.9 L276.3,682.9 L276.3,681.9 L278.2,681.9 L278.2,680.8 L280.1,680.8 L280.1,678.7 L282.9,678.7 L282.9,677.8 L285.8,677.8 L285.8,676.9 L286.8,676.9 L286.8,675.0 L288.8,675.0 L288.8,674.1 L290.7,674.1 L290.7,673.2 L291.7,673.2 L293.6,673.2 L293.6,671.3 L295.6,671.3 L295.6,669.4 L297.5,669.4 L297.5,668.4 L298.5,668.4 L298.5,667.4 L299.4,667.4 L299.4,665.5 L300.4,665.5 L302.3,665.5 L302.3,664.4 L304.2,664.4 L304.2,663.3 L305.1,663.3 L305.1,662.2 L307.0,662.2 L308.9,662.2 L308.9,660.0 L310.8,660.0 L310.8,657.9 L313.6,657.9 L313.6,656.8 L314.7,656.8 L314.7,654.8 L315.8,654.8 L315.8,653.8 L316.8,653.8 L316.8,652.8 L317.9,652.8" stroke="#ff1717"/>
</g>
<rect x="36.5" y="648.6" width="286.9" height="213.80000000000007" fill="none" stroke="#464646" stroke-width="1.1"/>
<line x1="42.02" y1="862.4000000000001" x2="42.02" y2="865.4000000000001" stroke="#1e1e1e" stroke-width="1.15"/>
<text class="tk" x="42.02" y="874.9000000000001" font-size="8.5" letter-spacing="0.3" text-anchor="middle">0.0</text>
<line x1="97.19" y1="862.4000000000001" x2="97.19" y2="865.4000000000001" stroke="#1e1e1e" stroke-width="1.15"/>
<text class="tk" x="97.19" y="874.9000000000001" font-size="8.5" letter-spacing="0.3" text-anchor="middle">0.2</text>
<line x1="152.36" y1="862.4000000000001" x2="152.36" y2="865.4000000000001" stroke="#1e1e1e" stroke-width="1.15"/>
<text class="tk" x="152.36" y="874.9000000000001" font-size="8.5" letter-spacing="0.3" text-anchor="middle">0.4</text>
<line x1="207.54" y1="862.4000000000001" x2="207.54" y2="865.4000000000001" stroke="#1e1e1e" stroke-width="1.15"/>
<text class="tk" x="207.54" y="874.9000000000001" font-size="8.5" letter-spacing="0.3" text-anchor="middle">0.6</text>
<line x1="262.71" y1="862.4000000000001" x2="262.71" y2="865.4000000000001" stroke="#1e1e1e" stroke-width="1.15"/>
<text class="tk" x="262.71" y="874.9000000000001" font-size="8.5" letter-spacing="0.3" text-anchor="middle">0.8</text>
<line x1="317.88" y1="862.4000000000001" x2="317.88" y2="865.4000000000001" stroke="#1e1e1e" stroke-width="1.15"/>
<text class="tk" x="317.88" y="874.9000000000001" font-size="8.5" letter-spacing="0.3" text-anchor="middle">1.0</text>
<line x1="33.5" y1="858.29" x2="36.5" y2="858.29" stroke="#1e1e1e" stroke-width="1.15"/>
<text class="tk" x="30.6" y="861.99" font-size="8.5" letter-spacing="0.3" text-anchor="end">0.0</text>
<line x1="33.5" y1="817.17" x2="36.5" y2="817.17" stroke="#1e1e1e" stroke-width="1.15"/>
<text class="tk" x="30.6" y="820.87" font-size="8.5" letter-spacing="0.3" text-anchor="end">0.2</text>
<line x1="33.5" y1="776.06" x2="36.5" y2="776.06" stroke="#1e1e1e" stroke-width="1.15"/>
<text class="tk" x="30.6" y="779.76" font-size="8.5" letter-spacing="0.3" text-anchor="end">0.4</text>
<line x1="33.5" y1="734.94" x2="36.5" y2="734.94" stroke="#1e1e1e" stroke-width="1.15"/>
<text class="tk" x="30.6" y="738.64" font-size="8.5" letter-spacing="0.3" text-anchor="end">0.6</text>
<line x1="33.5" y1="693.83" x2="36.5" y2="693.83" stroke="#1e1e1e" stroke-width="1.15"/>
<text class="tk" x="30.6" y="697.53" font-size="8.5" letter-spacing="0.3" text-anchor="end">0.8</text>
<line x1="33.5" y1="652.71" x2="36.5" y2="652.71" stroke="#1e1e1e" stroke-width="1.15"/>
<text class="tk" x="30.6" y="656.41" font-size="8.5" letter-spacing="0.3" text-anchor="end">1.0</text>
<text class="lb" x="179.9" y="643.9" font-size="14.4" text-anchor="middle">ROC Curve</text>
<text class="lb" x="179.9" y="888.8" font-size="13.9" text-anchor="middle">FPR</text>
<text class="lb" transform="translate(12.0,756.3) rotate(-90)" font-size="13.7" text-anchor="middle">TPR</text>
<rect x="40.5" y="652.5" width="156.8" height="49.6" rx="2" fill="#fff" fill-opacity="0.85" stroke="#d0d0d0" stroke-width="0.9"/>
<line x1="43.0" y1="659.3" x2="60.6" y2="659.3" stroke="#ffa208" stroke-width="1.6"/>
<text class="lg" x="66.3" y="661.9" font-size="8.5" letter-spacing="0.22">Ridge (AUROC = 0.496)</text>
<line x1="43.0" y1="671.2" x2="60.6" y2="671.2" stroke="#168216" stroke-width="1.6"/>
<text class="lg" x="66.3" y="673.8" font-size="8.5" letter-spacing="0.22">Linear (AUROC = 0.505)</text>
<line x1="43.0" y1="683.0" x2="60.6" y2="683.0" stroke="#4068e0" stroke-width="1.6"/>
<text class="lg" x="66.3" y="685.6" font-size="8.5" letter-spacing="0.22">GRNBoost2 (AUROC = 0.503)</text>
<line x1="43.0" y1="694.9" x2="60.6" y2="694.9" stroke="#ff1717" stroke-width="1.6"/>
<text class="lg" x="66.3" y="697.5" font-size="8.5" letter-spacing="0.22">ModularBoost (AUROC = 0.503)</text>
<clipPath id="c2PR"><rect x="388.5" y="648.6" width="286.9" height="213.80000000000007"/></clipPath>
<g clip-path="url(#c2PR)" fill="none" stroke-width="2" stroke-linejoin="round" stroke-linecap="round">
<path d="M407.0,858.0 L409.4,851.8 L412.5,847.1 L417.3,843.9 L418.9,842.9 L420.4,841.8 L422.0,839.6 L422.0,842.0 L423.6,838.9 L423.6,841.1 L425.1,838.7 L425.1,839.7 L426.7,837.7 L426.7,839.1 L428.3,836.8 L428.3,839.5 L429.8,837.9 L431.4,837.6 L433.0,837.1 L434.5,836.6 L436.1,835.0 L436.1,837.2 L437.2,835.9 L439.0,838.2 L439.0,840.0 L440.8,841.3 L440.8,843.3 L442.6,842.9 L444.4,843.0 L444.4,844.0 L446.1,844.1 L447.9,844.0 L447.9,845.4 L449.7,844.6 L449.7,846.0 L451.5,844.9 L451.5,846.9 L453.3,845.2 L453.3,846.7 L455.1,845.1 L455.1,846.9 L456.9,845.4 L456.9,846.7 L458.7,845.4 L458.7,846.8 L460.5,846.1 L462.3,845.5 L462.3,846.8 L464.1,845.6 L464.1,846.9 L465.9,845.7 L465.9,846.8 L467.7,845.9 L467.7,846.7 L469.5,846.0 L469.5,846.6 L471.3,846.0 L471.3,846.7 L473.1,846.4 L474.9,846.0 L474.9,846.9 L476.7,846.2 L476.7,846.9 L478.5,846.1 L478.5,847.0 L480.3,846.0 L480.3,847.2 L482.1,846.7 L483.9,846.5 L483.9,847.1 L485.7,846.3 L485.7,847.5 L487.5,847.0 L489.3,847.1 L491.1,847.2 L492.9,846.9 L492.9,847.7 L494.7,846.9 L494.7,847.9 L496.5,847.2 L496.5,847.8 L498.3,847.3 L498.3,847.9 L500.0,847.3 L500.0,848.1 L501.8,847.6 L501.8,848.0 L503.6,847.4 L503.6,848.4 L505.4,848.0 L507.2,847.9 L507.2,848.3 L509.0,848.0 L509.0,848.4 L510.8,847.9 L510.8,848.7 L512.6,848.2 L512.6,848.6 L514.4,848.2 L514.4,848.8 L516.2,848.4 L516.2,848.8 L518.0,848.4 L518.0,849.0 L519.8,848.5 L519.8,849.1 L521.6,848.8 L523.4,848.6 L523.4,849.0 L525.2,848.8 L527.0,848.5 L527.0,849.2 L528.8,848.7 L528.8,849.0 L530.6,848.8 L532.4,848.6 L532.4,849.1 L534.2,848.6 L534.2,849.1 L536.0,848.7 L536.0,849.0 L537.8,848.9 L539.5,848.5 L539.5,849.2 L541.3,848.5 L541.3,849.2 L543.1,848.7 L543.1,849.1 L544.9,848.9 L546.7,848.7 L546.7,849.1 L548.5,848.6 L548.5,849.2 L550.3,848.9 L552.1,848.7 L552.1,849.2 L553.9,849.0 L555.7,849.0 L557.5,849.0 L559.3,848.8 L559.3,849.1 L561.1,849.0 L562.9,848.7 L562.9,849.3 L564.7,848.8 L564.7,849.2 L566.5,849.0 L568.3,848.8 L568.3,849.3 L570.1,848.9 L570.1,849.2 L571.9,849.0 L573.7,848.7 L573.7,849.3 L575.5,849.0 L577.3,849.1 L579.0,848.9 L579.0,849.2 L580.8,849.1 L582.6,848.9 L582.6,849.2 L584.4,848.9 L584.4,849.3 L586.2,848.8 L586.2,849.4 L588.0,848.9 L588.0,849.3 L589.8,848.9 L589.8,849.3 L591.6,849.0 L591.6,849.3 L593.4,849.0 L593.4,849.2 L595.2,849.1 L597.0,849.0 L597.0,849.3 L598.8,849.2 L600.6,849.2 L602.4,849.2 L604.2,849.0 L604.2,849.4 L606.0,849.0 L606.0,849.4 L607.8,849.0 L607.8,849.4 L609.6,849.2 L611.4,849.2 L613.2,849.2 L615.0,849.2 L616.8,849.1 L616.8,849.4 L618.5,849.0 L618.5,849.5 L620.3,849.3 L622.1,849.1 L622.1,849.4 L623.9,849.0 L623.9,849.5 L625.7,849.1 L625.7,849.5 L627.5,849.3 L629.3,849.3 L631.1,849.0 L631.1,849.6 L632.9,849.0 L632.9,849.6 L634.7,849.3 L636.5,849.2 L636.5,849.4 L638.3,849.1 L638.3,849.6 L640.1,849.2 L640.1,849.5 L641.9,849.1 L641.9,849.6 L643.7,849.4 L645.5,849.1 L645.5,849.6 L647.3,849.3 L647.3,849.5 L649.1,849.2 L649.1,849.6 L650.9,849.2 L650.9,849.6 L652.7,849.1 L652.7,849.6 L654.5,849.4 L656.3,849.3 L656.3,849.5 L658.0,849.3 L658.0,849.5 L659.8,849.3 L659.8,849.5 L661.6,849.2 L661.6,849.7 L663.4,849.2 L663.4,849.7 L665.2,849.3 L665.2,849.6 L667.0,849.2 L667.0,849.7 L668.8,849.5 L670.6,849.2 L670.6,849.8 L672.4,849.3 L672.4,849.6 L674.2,849.4 L674.2,849.6 L676.0,849.3 L676.0,849.7" stroke="#ffa208"/>
<path d="M406.0,858.0 L407.0,845.5 L408.6,836.1 L410.2,833.0 L411.0,839.2 L412.5,833.0 L414.1,836.1 L415.7,833.0 L417.2,836.1 L418.8,839.2 L420.4,836.6 L420.4,838.7 L422.0,835.3 L422.0,836.9 L423.6,837.1 L423.6,838.2 L425.1,839.2 L426.6,839.9 L426.6,841.7 L428.2,841.9 L428.2,842.9 L429.8,842.0 L429.8,844.3 L431.4,842.8 L431.4,845.0 L433.0,843.4 L433.0,845.4 L434.5,843.5 L434.5,846.4 L436.1,845.5 L437.8,844.2 L437.8,847.0 L439.4,845.7 L441.1,845.0 L441.1,846.5 L442.7,845.8 L444.4,845.0 L444.4,846.8 L446.2,847.1 L446.2,849.0 L448.0,850.2 L449.8,849.2 L449.8,851.3 L451.6,850.3 L453.4,849.4 L453.4,851.2 L455.2,849.6 L455.2,851.1 L456.9,849.6 L456.9,851.2 L458.7,849.9 L458.7,851.0 L460.5,849.8 L460.5,851.1 L462.3,850.5 L464.1,850.0 L464.1,851.1 L465.9,850.6 L467.7,849.8 L467.7,851.3 L469.5,850.3 L469.5,850.9 L471.3,850.0 L471.3,851.1 L473.1,850.1 L473.1,850.9 L474.9,850.1 L474.9,850.9 L476.7,850.1 L476.7,850.9 L478.5,849.8 L478.5,851.1 L480.3,850.0 L480.3,850.9 L482.1,850.0 L482.1,850.9 L483.9,849.8 L483.9,851.0 L485.6,850.4 L487.4,850.0 L487.4,850.7 L489.2,850.0 L489.2,850.7 L491.0,850.3 L492.8,850.3 L494.6,850.3 L496.4,850.0 L496.4,850.6 L498.2,849.9 L498.2,850.6 L500.0,850.2 L501.8,849.8 L501.8,850.6 L503.6,849.6 L503.6,850.6 L505.4,850.1 L507.2,850.0 L509.0,849.9 L510.8,849.9 L512.6,849.6 L512.6,850.0 L514.4,849.3 L514.4,850.1 L516.2,849.2 L516.2,850.1 L518.0,849.4 L518.0,849.8 L519.8,849.3 L519.8,849.7 L521.5,849.1 L521.5,849.7 L523.3,849.0 L523.3,849.7 L525.1,849.3 L526.9,848.9 L526.9,849.5 L528.7,848.9 L528.7,849.4 L530.5,848.8 L530.5,849.4 L532.3,848.9 L532.3,849.2 L534.1,848.9 L535.9,848.6 L535.9,849.1 L537.7,848.8 L539.5,848.5 L539.5,849.0 L541.3,848.8 L543.1,848.4 L543.1,849.1 L544.9,848.5 L544.9,849.0 L546.7,848.4 L546.7,849.0 L548.5,848.7 L550.3,848.4 L550.3,849.0 L552.1,848.5 L552.1,848.8 L553.9,848.3 L553.9,848.9 L555.7,848.4 L555.7,848.9 L557.4,848.5 L557.4,848.8 L559.2,848.5 L559.2,848.7 L561.0,848.3 L561.0,848.8 L562.8,848.3 L562.8,848.8 L564.6,848.4 L564.6,848.6 L566.4,848.3 L566.4,848.8 L568.2,848.5 L570.0,848.5 L571.8,848.5 L573.6,848.3 L573.6,848.6 L575.4,848.3 L575.4,848.6 L577.2,848.3 L577.2,848.5 L579.0,848.4 L580.8,848.4 L582.6,848.1 L582.6,848.6 L584.4,848.1 L584.4,848.5 L586.2,848.1 L586.2,848.5 L588.0,848.2 L588.0,848.4 L589.8,848.0 L589.8,848.6 L591.5,848.1 L591.5,848.4 L593.3,848.3 L595.1,848.2 L596.9,848.2 L598.7,848.1 L598.7,848.3 L600.5,848.0 L600.5,848.3 L602.3,848.0 L602.3,848.4 L604.1,848.2 L605.9,847.9 L605.9,848.4 L607.7,848.1 L609.5,847.8 L609.5,848.4 L611.3,847.9 L611.3,848.3 L613.1,848.1 L613.1,848.3 L614.9,848.2 L616.7,848.3 L618.5,848.2 L618.5,848.4 L620.3,848.2 L620.3,848.5 L622.1,848.1 L622.1,848.6 L623.9,848.4 L625.7,848.4 L627.5,848.5 L629.3,848.5 L631.1,848.4 L631.1,848.7 L632.9,848.4 L632.9,848.8 L634.7,848.6 L636.5,848.5 L636.5,848.9 L638.3,848.5 L638.3,848.9 L640.1,848.5 L640.1,849.0 L641.9,848.6 L641.9,848.9 L643.6,848.6 L643.6,849.0 L645.4,848.9 L647.2,848.6 L647.2,849.2 L649.0,848.9 L650.8,849.0 L652.6,848.9 L652.6,849.1 L654.4,849.0 L656.2,849.1 L658.0,849.0 L658.0,849.3 L659.8,848.9 L659.8,849.4 L661.6,849.2 L663.4,849.0 L663.4,849.5 L665.2,849.1 L665.2,849.4 L667.0,849.3 L668.8,849.2 L668.8,849.5 L670.6,849.2 L670.6,849.5 L672.4,849.2 L672.4,849.7 L674.2,849.2 L674.2,849.7 L676.0,849.3 L676.0,849.7" stroke="#168216"/>
<path d="M407.0,858.0 L408.6,836.0 L409.0,783.9 L414.1,731.8 L414.9,836.1 L415.7,832.2 L417.3,835.1 L417.3,837.1 L419.6,831.9 L419.6,834.1 L422.0,834.7 L422.0,837.5 L424.3,833.7 L426.2,837.8 L426.2,839.8 L428.2,842.4 L428.2,845.4 L429.8,843.7 L429.8,845.7 L431.4,844.8 L431.4,846.2 L432.9,847.0 L434.5,848.6 L436.3,848.9 L438.2,848.6 L438.2,849.7 L440.0,848.6 L440.0,850.2 L441.9,848.0 L441.9,850.6 L443.8,848.0 L443.8,850.4 L445.8,849.1 L447.7,848.1 L447.7,849.9 L449.6,848.5 L449.6,849.3 L451.5,848.0 L451.5,849.6 L453.3,848.8 L455.1,848.9 L456.9,848.2 L456.9,849.6 L458.7,849.0 L460.5,848.4 L460.5,849.6 L462.3,848.7 L462.3,849.4 L464.1,849.1 L465.9,848.8 L465.9,849.4 L467.7,848.6 L467.7,849.7 L469.5,849.2 L471.3,848.8 L471.3,849.7 L473.1,849.3 L474.9,849.0 L474.9,849.6 L476.7,848.8 L476.7,849.9 L478.5,848.8 L478.5,850.0 L480.3,849.4 L482.1,849.0 L482.1,849.9 L483.9,849.5 L485.7,849.0 L485.7,849.9 L487.5,849.0 L487.5,849.9 L489.3,849.4 L491.1,849.0 L491.1,849.8 L492.9,849.4 L494.7,849.4 L496.5,848.8 L496.5,849.9 L498.2,849.0 L498.2,849.6 L500.0,849.3 L501.8,848.8 L501.8,849.7 L503.6,848.9 L503.6,849.6 L505.4,848.8 L505.4,849.6 L507.2,849.2 L509.0,848.8 L509.0,849.6 L510.8,848.7 L510.8,849.6 L512.6,848.8 L512.6,849.5 L514.4,848.8 L514.4,849.4 L516.2,848.7 L516.2,849.4 L518.0,848.9 L518.0,849.2 L519.8,848.7 L519.8,849.3 L521.6,849.0 L523.4,849.0 L525.1,848.8 L525.1,849.2 L526.9,848.9 L528.7,848.8 L528.7,849.1 L530.5,848.7 L530.5,849.1 L532.3,848.9 L534.1,848.8 L535.9,848.6 L535.9,849.1 L537.7,848.5 L537.7,849.1 L539.5,848.8 L541.3,848.5 L541.3,849.1 L543.1,848.6 L543.1,849.0 L544.9,848.7 L544.9,849.0 L546.7,848.7 L546.7,849.0 L548.5,848.6 L548.5,849.1 L550.3,848.9 L552.1,848.7 L552.1,849.0 L553.9,848.9 L555.7,848.8 L555.7,849.0 L557.5,848.9 L559.3,848.9 L561.0,848.7 L561.0,849.2 L562.8,848.9 L564.6,848.9 L566.4,848.7 L566.4,849.2 L568.2,849.0 L570.0,849.0 L571.8,848.7 L571.8,849.3 L573.6,849.0 L575.4,848.9 L575.4,849.1 L577.2,848.8 L577.2,849.2 L579.0,848.7 L579.0,849.3 L580.8,848.9 L580.8,849.1 L582.6,848.8 L582.6,849.2 L584.4,848.9 L584.4,849.2 L586.2,848.9 L586.2,849.2 L588.0,848.8 L588.0,849.3 L589.8,848.9 L589.8,849.3 L591.6,849.1 L593.4,849.1 L595.2,849.0 L595.2,849.2 L597.0,848.9 L597.0,849.3 L598.8,849.1 L600.6,849.0 L600.6,849.3 L602.4,849.1 L604.2,848.9 L604.2,849.4 L606.0,849.0 L606.0,849.3 L607.7,848.9 L607.7,849.4 L609.5,848.9 L609.5,849.4 L611.3,849.2 L613.1,849.2 L614.9,849.0 L614.9,849.4 L616.7,848.9 L616.7,849.5 L618.5,848.9 L618.5,849.5 L620.3,849.2 L622.1,849.0 L622.1,849.5 L623.9,849.2 L625.7,849.0 L625.7,849.5 L627.5,849.3 L629.3,849.2 L629.3,849.4 L631.1,849.1 L631.1,849.5 L632.9,849.1 L632.9,849.5 L634.7,849.3 L636.5,849.0 L636.5,849.6 L638.3,849.0 L638.3,849.6 L640.1,849.1 L640.1,849.5 L641.9,849.1 L641.9,849.6 L643.7,849.3 L645.5,849.1 L645.5,849.6 L647.3,849.1 L647.3,849.6 L649.1,849.4 L650.9,849.4 L652.7,849.1 L652.7,849.6 L654.4,849.2 L654.4,849.6 L656.2,849.2 L656.2,849.6 L658.0,849.3 L658.0,849.5 L659.8,849.4 L661.6,849.2 L661.6,849.7 L663.4,849.2 L663.4,849.7 L665.2,849.3 L665.2,849.6 L667.0,849.3 L667.0,849.6 L668.8,849.2 L668.8,849.7 L670.6,849.2 L670.6,849.8 L672.4,849.5 L674.2,849.3 L674.2,849.6 L676.0,849.4 L676.0,849.6" stroke="#4068e0"/>
<path d="M406.3,858.5 L409.0,848.6 L409.0,647.0 L409.0,848.6 L409.4,848.6 L412.5,843.9 L417.3,840.8 L418.9,839.5 L420.4,838.2 L422.0,836.9 L423.6,835.7 L425.1,833.3 L425.1,835.7 L425.9,839.2 L427.9,838.4 L429.8,837.6 L430.6,840.8 L432.2,838.6 L432.2,840.4 L433.8,837.0 L433.8,839.4 L435.4,836.2 L435.4,837.6 L437.2,840.9 L437.2,843.7 L439.0,842.3 L440.8,841.5 L440.8,843.1 L442.6,842.3 L444.4,842.3 L446.2,844.1 L448.0,845.9 L449.8,845.0 L449.8,846.8 L451.6,845.0 L451.6,846.8 L453.4,845.3 L453.4,846.5 L455.2,845.9 L456.9,845.6 L456.9,846.2 L458.7,845.9 L460.5,845.1 L460.5,846.7 L462.3,845.1 L462.3,846.7 L464.1,845.2 L464.1,846.6 L465.9,845.3 L465.9,846.5 L467.7,845.3 L467.7,846.6 L469.5,845.7 L469.5,846.5 L471.3,845.5 L471.3,846.9 L473.1,845.9 L473.1,846.6 L474.9,845.8 L474.9,846.9 L476.7,846.4 L478.5,846.3 L478.5,846.8 L480.3,846.0 L480.3,847.2 L482.1,846.4 L482.1,847.0 L483.9,846.8 L485.6,846.3 L485.6,847.4 L487.4,847.0 L489.2,846.6 L489.2,847.5 L491.0,846.7 L491.0,847.6 L492.8,846.8 L492.8,847.7 L494.6,847.3 L496.4,847.2 L496.4,847.6 L498.2,847.3 L498.2,847.7 L500.0,847.2 L500.0,848.0 L501.8,847.3 L501.8,848.1 L503.6,847.7 L505.4,847.3 L505.4,848.1 L507.2,847.3 L507.2,848.1 L509.0,847.4 L509.0,848.0 L510.8,847.3 L510.8,848.1 L512.6,847.3 L512.6,848.1 L514.4,847.5 L514.4,847.9 L516.2,847.7 L518.0,847.7 L519.8,847.7 L521.6,847.7 L523.4,847.7 L525.2,847.7 L527.0,847.5 L527.0,847.9 L528.7,847.4 L528.7,848.0 L530.5,847.7 L532.3,847.5 L532.3,847.9 L534.1,847.4 L534.1,848.0 L535.9,847.4 L535.9,848.0 L537.7,847.5 L537.7,847.9 L539.5,847.5 L539.5,847.9 L541.3,847.5 L541.3,847.9 L543.1,847.5 L543.1,847.9 L544.9,847.4 L544.9,848.0 L546.7,847.7 L548.5,847.4 L548.5,848.0 L550.3,847.7 L552.1,847.4 L552.1,848.0 L553.9,848.5 L553.9,849.1 L555.7,848.5 L555.7,849.2 L557.5,848.9 L559.3,848.7 L559.3,849.1 L561.1,848.9 L562.9,849.0 L564.7,848.8 L564.7,849.2 L566.5,849.0 L568.3,848.8 L568.3,849.3 L570.1,849.0 L570.1,849.2 L571.9,849.1 L573.6,849.0 L573.6,849.3 L575.4,848.9 L575.4,849.5 L577.2,849.0 L577.2,849.5 L579.0,849.0 L579.0,849.5 L580.8,849.1 L580.8,849.5 L582.6,849.1 L582.6,849.6 L584.4,849.4 L586.2,849.1 L586.2,849.7 L588.0,849.4 L589.8,849.3 L589.8,849.6 L591.6,849.3 L591.6,849.7 L593.4,849.2 L593.4,849.8 L595.2,849.3 L595.2,849.7 L597.0,849.2 L597.0,849.8 L598.8,849.5 L600.6,849.2 L600.6,849.8 L602.4,849.2 L602.4,849.8 L604.2,849.3 L604.2,849.7 L606.0,849.3 L606.0,849.7 L607.8,849.3 L607.8,849.7 L609.6,849.5 L611.4,849.3 L611.4,849.7 L613.1,849.4 L613.1,849.6 L614.9,849.4 L614.9,849.6 L616.7,849.3 L616.7,849.7 L618.5,849.5 L620.3,849.3 L620.3,849.7 L622.1,849.5 L623.9,849.4 L623.9,849.6 L625.7,849.3 L625.7,849.7 L627.5,849.3 L627.5,849.7 L629.3,849.5 L631.1,849.2 L631.1,849.8 L632.9,849.5 L634.7,849.2 L634.7,849.8 L636.5,849.2 L636.5,849.8 L638.3,849.3 L638.3,849.7 L640.1,849.3 L640.1,849.7 L641.9,849.5 L643.7,849.2 L643.7,849.8 L645.5,849.3 L645.5,849.7 L647.3,849.2 L647.3,849.8 L649.1,849.5 L650.9,849.3 L650.9,849.7 L652.7,849.4 L652.7,849.6 L654.5,849.5 L656.2,849.3 L656.2,849.7 L658.0,849.3 L658.0,849.7 L659.8,849.3 L659.8,849.7 L661.6,849.5 L663.4,849.5 L665.2,849.4 L665.2,849.6 L667.0,849.5 L668.8,849.2 L668.8,849.8 L670.6,849.2 L670.6,849.8 L672.4,849.5 L674.2,849.3 L674.2,849.7 L676.0,849.3 L676.0,849.7" stroke="#ff1717"/>
</g>
<rect x="388.5" y="648.6" width="286.9" height="213.80000000000007" fill="none" stroke="#464646" stroke-width="1.1"/>
<line x1="406.43" y1="862.4000000000001" x2="406.43" y2="865.4000000000001" stroke="#1e1e1e" stroke-width="1.15"/>
<text class="tk" x="406.43" y="874.9000000000001" font-size="8.5" letter-spacing="0.3" text-anchor="middle">0.00</text>
<line x1="451.26" y1="862.4000000000001" x2="451.26" y2="865.4000000000001" stroke="#1e1e1e" stroke-width="1.15"/>
<text class="tk" x="451.26" y="874.9000000000001" font-size="8.5" letter-spacing="0.3" text-anchor="middle">0.05</text>
<line x1="496.09" y1="862.4000000000001" x2="496.09" y2="865.4000000000001" stroke="#1e1e1e" stroke-width="1.15"/>
<text class="tk" x="496.09" y="874.9000000000001" font-size="8.5" letter-spacing="0.3" text-anchor="middle">0.10</text>
<line x1="540.92" y1="862.4000000000001" x2="540.92" y2="865.4000000000001" stroke="#1e1e1e" stroke-width="1.15"/>
<text class="tk" x="540.92" y="874.9000000000001" font-size="8.5" letter-spacing="0.3" text-anchor="middle">0.15</text>
<line x1="585.74" y1="862.4000000000001" x2="585.74" y2="865.4000000000001" stroke="#1e1e1e" stroke-width="1.15"/>
<text class="tk" x="585.74" y="874.9000000000001" font-size="8.5" letter-spacing="0.3" text-anchor="middle">0.20</text>
<line x1="630.57" y1="862.4000000000001" x2="630.57" y2="865.4000000000001" stroke="#1e1e1e" stroke-width="1.15"/>
<text class="tk" x="630.57" y="874.9000000000001" font-size="8.5" letter-spacing="0.3" text-anchor="middle">0.25</text>
<line x1="675.40" y1="862.4000000000001" x2="675.40" y2="865.4000000000001" stroke="#1e1e1e" stroke-width="1.15"/>
<text class="tk" x="675.40" y="874.9000000000001" font-size="8.5" letter-spacing="0.3" text-anchor="middle">0.30</text>
<line x1="385.5" y1="858.21" x2="388.5" y2="858.21" stroke="#1e1e1e" stroke-width="1.15"/>
<text class="tk" x="382.6" y="861.91" font-size="8.5" letter-spacing="0.3" text-anchor="end">0.0</text>
<line x1="385.5" y1="816.29" x2="388.5" y2="816.29" stroke="#1e1e1e" stroke-width="1.15"/>
<text class="tk" x="382.6" y="819.99" font-size="8.5" letter-spacing="0.3" text-anchor="end">0.2</text>
<line x1="385.5" y1="774.36" x2="388.5" y2="774.36" stroke="#1e1e1e" stroke-width="1.15"/>
<text class="tk" x="382.6" y="778.06" font-size="8.5" letter-spacing="0.3" text-anchor="end">0.4</text>
<line x1="385.5" y1="732.44" x2="388.5" y2="732.44" stroke="#1e1e1e" stroke-width="1.15"/>
<text class="tk" x="382.6" y="736.14" font-size="8.5" letter-spacing="0.3" text-anchor="end">0.6</text>
<line x1="385.5" y1="690.52" x2="388.5" y2="690.52" stroke="#1e1e1e" stroke-width="1.15"/>
<text class="tk" x="382.6" y="694.22" font-size="8.5" letter-spacing="0.3" text-anchor="end">0.8</text>
<line x1="385.5" y1="648.60" x2="388.5" y2="648.60" stroke="#1e1e1e" stroke-width="1.15"/>
<text class="tk" x="382.6" y="652.30" font-size="8.5" letter-spacing="0.3" text-anchor="end">1.0</text>
<text class="lb" x="532.0" y="643.9" font-size="14.4" text-anchor="middle">PR Curve</text>
<text class="lb" x="532.0" y="888.8" font-size="13.9" text-anchor="middle">Recall</text>
<text class="lb" transform="translate(365.5,756.3) rotate(-90)" font-size="13.7" text-anchor="middle">Precision</text>
<rect x="521.7" y="652.5" width="150.1" height="49.6" rx="2" fill="#fff" fill-opacity="0.85" stroke="#d0d0d0" stroke-width="0.9"/>
<line x1="524.2" y1="659.3" x2="541.8" y2="659.3" stroke="#ffa208" stroke-width="1.6"/>
<text class="lg" x="547.5" y="661.9" font-size="8.5" letter-spacing="0.22">Ridge (AUPR = 0.041)</text>
<line x1="524.2" y1="671.2" x2="541.8" y2="671.2" stroke="#168216" stroke-width="1.6"/>
<text class="lg" x="547.5" y="673.8" font-size="8.5" letter-spacing="0.22">Linear (AUPR = 0.041)</text>
<line x1="524.2" y1="683.0" x2="541.8" y2="683.0" stroke="#4068e0" stroke-width="1.6"/>
<text class="lg" x="547.5" y="685.6" font-size="8.5" letter-spacing="0.22">GRNBoost2 (AUPR = 0.046)</text>
<line x1="524.2" y1="694.9" x2="541.8" y2="694.9" stroke="#ff1717" stroke-width="1.6"/>
<text class="lg" x="547.5" y="697.5" font-size="8.5" letter-spacing="0.22">ModularBoost (AUPR = 0.044)</text>
<text x="175.0" y="916.1" style='font-family:"Liberation Serif", serif;fill:#000;stroke:#000;stroke-width:0.15px' font-size="18.25" text-anchor="middle">SCODE DE</text>
<text x="527.65" y="915.9" style='font-family:"Liberation Serif", serif;fill:#000;stroke:#000;stroke-width:0.15px' font-size="18.25" text-anchor="middle">SCODE DE</text>
</svg></body></html>
